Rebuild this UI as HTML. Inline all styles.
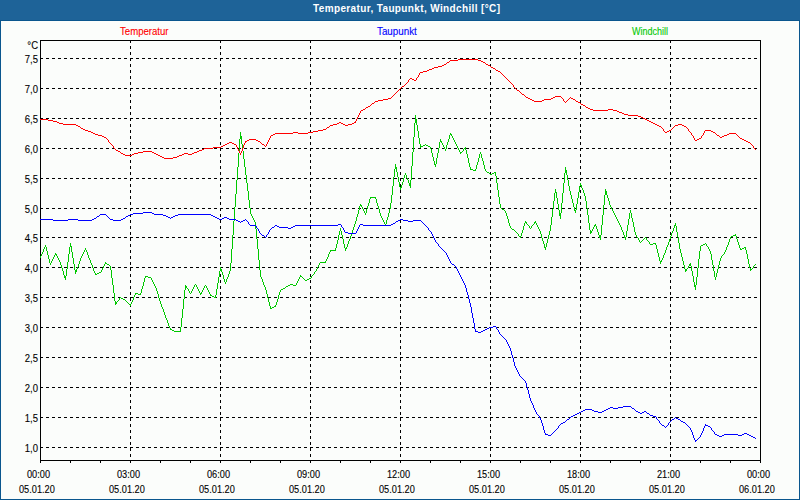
<!DOCTYPE html>
<html><head><meta charset="utf-8"><style>
html,body{margin:0;padding:0;}
body{width:800px;height:500px;position:relative;overflow:hidden;background:#fbfdfb;font-family:"Liberation Sans",sans-serif;font-size:10px;color:#000;}
.bd{position:absolute;background:#0a568e}
.title{position:absolute;left:0;top:0;width:800px;height:21px;background:#1e6398}
.tt{position:absolute;left:313px;top:3px;color:#fff;font-weight:bold;font-size:10px;white-space:nowrap;letter-spacing:0.37px}
.l{position:absolute;white-space:nowrap;transform-origin:0 0;line-height:12px;-webkit-text-stroke:0.1px currentColor}
.yl{left:0;width:38px;text-align:right;transform-origin:100% 0}
svg{position:absolute;left:0;top:0}
</style></head><body>
<div class="title"><div class="tt">Temperatur, Taupunkt, Windchill [°C]</div></div>
<div class="bd" style="left:0;top:20px;width:800px;height:1px"></div>
<div class="bd" style="left:0;top:20px;width:1px;height:480px"></div>
<div class="bd" style="right:0;top:20px;width:1px;height:480px"></div>
<div class="bd" style="left:0;bottom:0;width:800px;height:1px"></div>
<div class="l yl" style="top:54px;transform:scaleX(0.95)">7,5</div>
<div class="l yl" style="top:84px;transform:scaleX(0.95)">7,0</div>
<div class="l yl" style="top:114px;transform:scaleX(0.95)">6,5</div>
<div class="l yl" style="top:144px;transform:scaleX(0.95)">6,0</div>
<div class="l yl" style="top:174px;transform:scaleX(0.95)">5,5</div>
<div class="l yl" style="top:204px;transform:scaleX(0.95)">5,0</div>
<div class="l yl" style="top:233px;transform:scaleX(0.95)">4,5</div>
<div class="l yl" style="top:263px;transform:scaleX(0.95)">4,0</div>
<div class="l yl" style="top:293px;transform:scaleX(0.95)">3,5</div>
<div class="l yl" style="top:323px;transform:scaleX(0.95)">3,0</div>
<div class="l yl" style="top:353px;transform:scaleX(0.95)">2,5</div>
<div class="l yl" style="top:383px;transform:scaleX(0.95)">2,0</div>
<div class="l yl" style="top:413px;transform:scaleX(0.95)">1,5</div>
<div class="l yl" style="top:443px;transform:scaleX(0.95)">1,0</div>
<div class="l yl" style="top:40px;transform:scaleX(0.95)">°C</div>
<div class="l " style="left:27px;top:469px;transform:scaleX(0.92);">00:00</div>
<div class="l " style="left:19px;top:484px;transform:scaleX(0.92);">05.01.20</div>
<div class="l " style="left:117px;top:469px;transform:scaleX(0.92);">03:00</div>
<div class="l " style="left:109px;top:484px;transform:scaleX(0.92);">05.01.20</div>
<div class="l " style="left:207px;top:469px;transform:scaleX(0.92);">06:00</div>
<div class="l " style="left:199px;top:484px;transform:scaleX(0.92);">05.01.20</div>
<div class="l " style="left:297px;top:469px;transform:scaleX(0.92);">09:00</div>
<div class="l " style="left:289px;top:484px;transform:scaleX(0.92);">05.01.20</div>
<div class="l " style="left:387px;top:469px;transform:scaleX(0.92);">12:00</div>
<div class="l " style="left:379px;top:484px;transform:scaleX(0.92);">05.01.20</div>
<div class="l " style="left:477px;top:469px;transform:scaleX(0.92);">15:00</div>
<div class="l " style="left:469px;top:484px;transform:scaleX(0.92);">05.01.20</div>
<div class="l " style="left:567px;top:469px;transform:scaleX(0.92);">18:00</div>
<div class="l " style="left:559px;top:484px;transform:scaleX(0.92);">05.01.20</div>
<div class="l " style="left:657px;top:469px;transform:scaleX(0.92);">21:00</div>
<div class="l " style="left:649px;top:484px;transform:scaleX(0.92);">05.01.20</div>
<div class="l " style="left:747px;top:469px;transform:scaleX(0.92);">00:00</div>
<div class="l " style="left:739px;top:484px;transform:scaleX(0.92);">06.01.20</div>
<div class="l " style="left:120px;top:26px;transform:scaleX(0.96);color:#ff0000">Temperatur</div>
<div class="l " style="left:377px;top:26px;transform:scaleX(0.98);color:#0000ff">Taupunkt</div>
<div class="l " style="left:632px;top:26px;transform:scaleX(0.9);color:#00c800">Windchill</div>
<svg width="800" height="500" shape-rendering="crispEdges">
<path d="M40 58.5h3M46 58.5h3M52 58.5h3M58 58.5h3M64 58.5h3M70 58.5h3M76 58.5h3M82 58.5h3M88 58.5h3M94 58.5h3M100 58.5h3M106 58.5h3M112 58.5h3M118 58.5h3M124 58.5h3M130 58.5h3M136 58.5h3M142 58.5h3M148 58.5h3M154 58.5h3M160 58.5h3M166 58.5h3M172 58.5h3M178 58.5h3M184 58.5h3M190 58.5h3M196 58.5h3M202 58.5h3M208 58.5h3M214 58.5h3M220 58.5h3M226 58.5h3M232 58.5h3M238 58.5h3M244 58.5h3M250 58.5h3M256 58.5h3M262 58.5h3M268 58.5h3M274 58.5h3M280 58.5h3M286 58.5h3M292 58.5h3M298 58.5h3M304 58.5h3M310 58.5h3M316 58.5h3M322 58.5h3M328 58.5h3M334 58.5h3M340 58.5h3M346 58.5h3M352 58.5h3M358 58.5h3M364 58.5h3M370 58.5h3M376 58.5h3M382 58.5h3M388 58.5h3M394 58.5h3M400 58.5h3M406 58.5h3M412 58.5h3M418 58.5h3M424 58.5h3M430 58.5h3M436 58.5h3M442 58.5h3M448 58.5h3M454 58.5h3M460 58.5h3M466 58.5h3M472 58.5h3M478 58.5h3M484 58.5h3M490 58.5h3M496 58.5h3M502 58.5h3M508 58.5h3M514 58.5h3M520 58.5h3M526 58.5h3M532 58.5h3M538 58.5h3M544 58.5h3M550 58.5h3M556 58.5h3M562 58.5h3M568 58.5h3M574 58.5h3M580 58.5h3M586 58.5h3M592 58.5h3M598 58.5h3M604 58.5h3M610 58.5h3M616 58.5h3M622 58.5h3M628 58.5h3M634 58.5h3M640 58.5h3M646 58.5h3M652 58.5h3M658 58.5h3M664 58.5h3M670 58.5h3M676 58.5h3M682 58.5h3M688 58.5h3M694 58.5h3M700 58.5h3M706 58.5h3M712 58.5h3M718 58.5h3M724 58.5h3M730 58.5h3M736 58.5h3M742 58.5h3M748 58.5h3M754 58.5h3M40 88.5h3M46 88.5h3M52 88.5h3M58 88.5h3M64 88.5h3M70 88.5h3M76 88.5h3M82 88.5h3M88 88.5h3M94 88.5h3M100 88.5h3M106 88.5h3M112 88.5h3M118 88.5h3M124 88.5h3M130 88.5h3M136 88.5h3M142 88.5h3M148 88.5h3M154 88.5h3M160 88.5h3M166 88.5h3M172 88.5h3M178 88.5h3M184 88.5h3M190 88.5h3M196 88.5h3M202 88.5h3M208 88.5h3M214 88.5h3M220 88.5h3M226 88.5h3M232 88.5h3M238 88.5h3M244 88.5h3M250 88.5h3M256 88.5h3M262 88.5h3M268 88.5h3M274 88.5h3M280 88.5h3M286 88.5h3M292 88.5h3M298 88.5h3M304 88.5h3M310 88.5h3M316 88.5h3M322 88.5h3M328 88.5h3M334 88.5h3M340 88.5h3M346 88.5h3M352 88.5h3M358 88.5h3M364 88.5h3M370 88.5h3M376 88.5h3M382 88.5h3M388 88.5h3M394 88.5h3M400 88.5h3M406 88.5h3M412 88.5h3M418 88.5h3M424 88.5h3M430 88.5h3M436 88.5h3M442 88.5h3M448 88.5h3M454 88.5h3M460 88.5h3M466 88.5h3M472 88.5h3M478 88.5h3M484 88.5h3M490 88.5h3M496 88.5h3M502 88.5h3M508 88.5h3M514 88.5h3M520 88.5h3M526 88.5h3M532 88.5h3M538 88.5h3M544 88.5h3M550 88.5h3M556 88.5h3M562 88.5h3M568 88.5h3M574 88.5h3M580 88.5h3M586 88.5h3M592 88.5h3M598 88.5h3M604 88.5h3M610 88.5h3M616 88.5h3M622 88.5h3M628 88.5h3M634 88.5h3M640 88.5h3M646 88.5h3M652 88.5h3M658 88.5h3M664 88.5h3M670 88.5h3M676 88.5h3M682 88.5h3M688 88.5h3M694 88.5h3M700 88.5h3M706 88.5h3M712 88.5h3M718 88.5h3M724 88.5h3M730 88.5h3M736 88.5h3M742 88.5h3M748 88.5h3M754 88.5h3M40 118.5h3M46 118.5h3M52 118.5h3M58 118.5h3M64 118.5h3M70 118.5h3M76 118.5h3M82 118.5h3M88 118.5h3M94 118.5h3M100 118.5h3M106 118.5h3M112 118.5h3M118 118.5h3M124 118.5h3M130 118.5h3M136 118.5h3M142 118.5h3M148 118.5h3M154 118.5h3M160 118.5h3M166 118.5h3M172 118.5h3M178 118.5h3M184 118.5h3M190 118.5h3M196 118.5h3M202 118.5h3M208 118.5h3M214 118.5h3M220 118.5h3M226 118.5h3M232 118.5h3M238 118.5h3M244 118.5h3M250 118.5h3M256 118.5h3M262 118.5h3M268 118.5h3M274 118.5h3M280 118.5h3M286 118.5h3M292 118.5h3M298 118.5h3M304 118.5h3M310 118.5h3M316 118.5h3M322 118.5h3M328 118.5h3M334 118.5h3M340 118.5h3M346 118.5h3M352 118.5h3M358 118.5h3M364 118.5h3M370 118.5h3M376 118.5h3M382 118.5h3M388 118.5h3M394 118.5h3M400 118.5h3M406 118.5h3M412 118.5h3M418 118.5h3M424 118.5h3M430 118.5h3M436 118.5h3M442 118.5h3M448 118.5h3M454 118.5h3M460 118.5h3M466 118.5h3M472 118.5h3M478 118.5h3M484 118.5h3M490 118.5h3M496 118.5h3M502 118.5h3M508 118.5h3M514 118.5h3M520 118.5h3M526 118.5h3M532 118.5h3M538 118.5h3M544 118.5h3M550 118.5h3M556 118.5h3M562 118.5h3M568 118.5h3M574 118.5h3M580 118.5h3M586 118.5h3M592 118.5h3M598 118.5h3M604 118.5h3M610 118.5h3M616 118.5h3M622 118.5h3M628 118.5h3M634 118.5h3M640 118.5h3M646 118.5h3M652 118.5h3M658 118.5h3M664 118.5h3M670 118.5h3M676 118.5h3M682 118.5h3M688 118.5h3M694 118.5h3M700 118.5h3M706 118.5h3M712 118.5h3M718 118.5h3M724 118.5h3M730 118.5h3M736 118.5h3M742 118.5h3M748 118.5h3M754 118.5h3M40 148.5h3M46 148.5h3M52 148.5h3M58 148.5h3M64 148.5h3M70 148.5h3M76 148.5h3M82 148.5h3M88 148.5h3M94 148.5h3M100 148.5h3M106 148.5h3M112 148.5h3M118 148.5h3M124 148.5h3M130 148.5h3M136 148.5h3M142 148.5h3M148 148.5h3M154 148.5h3M160 148.5h3M166 148.5h3M172 148.5h3M178 148.5h3M184 148.5h3M190 148.5h3M196 148.5h3M202 148.5h3M208 148.5h3M214 148.5h3M220 148.5h3M226 148.5h3M232 148.5h3M238 148.5h3M244 148.5h3M250 148.5h3M256 148.5h3M262 148.5h3M268 148.5h3M274 148.5h3M280 148.5h3M286 148.5h3M292 148.5h3M298 148.5h3M304 148.5h3M310 148.5h3M316 148.5h3M322 148.5h3M328 148.5h3M334 148.5h3M340 148.5h3M346 148.5h3M352 148.5h3M358 148.5h3M364 148.5h3M370 148.5h3M376 148.5h3M382 148.5h3M388 148.5h3M394 148.5h3M400 148.5h3M406 148.5h3M412 148.5h3M418 148.5h3M424 148.5h3M430 148.5h3M436 148.5h3M442 148.5h3M448 148.5h3M454 148.5h3M460 148.5h3M466 148.5h3M472 148.5h3M478 148.5h3M484 148.5h3M490 148.5h3M496 148.5h3M502 148.5h3M508 148.5h3M514 148.5h3M520 148.5h3M526 148.5h3M532 148.5h3M538 148.5h3M544 148.5h3M550 148.5h3M556 148.5h3M562 148.5h3M568 148.5h3M574 148.5h3M580 148.5h3M586 148.5h3M592 148.5h3M598 148.5h3M604 148.5h3M610 148.5h3M616 148.5h3M622 148.5h3M628 148.5h3M634 148.5h3M640 148.5h3M646 148.5h3M652 148.5h3M658 148.5h3M664 148.5h3M670 148.5h3M676 148.5h3M682 148.5h3M688 148.5h3M694 148.5h3M700 148.5h3M706 148.5h3M712 148.5h3M718 148.5h3M724 148.5h3M730 148.5h3M736 148.5h3M742 148.5h3M748 148.5h3M754 148.5h3M40 178.5h3M46 178.5h3M52 178.5h3M58 178.5h3M64 178.5h3M70 178.5h3M76 178.5h3M82 178.5h3M88 178.5h3M94 178.5h3M100 178.5h3M106 178.5h3M112 178.5h3M118 178.5h3M124 178.5h3M130 178.5h3M136 178.5h3M142 178.5h3M148 178.5h3M154 178.5h3M160 178.5h3M166 178.5h3M172 178.5h3M178 178.5h3M184 178.5h3M190 178.5h3M196 178.5h3M202 178.5h3M208 178.5h3M214 178.5h3M220 178.5h3M226 178.5h3M232 178.5h3M238 178.5h3M244 178.5h3M250 178.5h3M256 178.5h3M262 178.5h3M268 178.5h3M274 178.5h3M280 178.5h3M286 178.5h3M292 178.5h3M298 178.5h3M304 178.5h3M310 178.5h3M316 178.5h3M322 178.5h3M328 178.5h3M334 178.5h3M340 178.5h3M346 178.5h3M352 178.5h3M358 178.5h3M364 178.5h3M370 178.5h3M376 178.5h3M382 178.5h3M388 178.5h3M394 178.5h3M400 178.5h3M406 178.5h3M412 178.5h3M418 178.5h3M424 178.5h3M430 178.5h3M436 178.5h3M442 178.5h3M448 178.5h3M454 178.5h3M460 178.5h3M466 178.5h3M472 178.5h3M478 178.5h3M484 178.5h3M490 178.5h3M496 178.5h3M502 178.5h3M508 178.5h3M514 178.5h3M520 178.5h3M526 178.5h3M532 178.5h3M538 178.5h3M544 178.5h3M550 178.5h3M556 178.5h3M562 178.5h3M568 178.5h3M574 178.5h3M580 178.5h3M586 178.5h3M592 178.5h3M598 178.5h3M604 178.5h3M610 178.5h3M616 178.5h3M622 178.5h3M628 178.5h3M634 178.5h3M640 178.5h3M646 178.5h3M652 178.5h3M658 178.5h3M664 178.5h3M670 178.5h3M676 178.5h3M682 178.5h3M688 178.5h3M694 178.5h3M700 178.5h3M706 178.5h3M712 178.5h3M718 178.5h3M724 178.5h3M730 178.5h3M736 178.5h3M742 178.5h3M748 178.5h3M754 178.5h3M40 208.5h3M46 208.5h3M52 208.5h3M58 208.5h3M64 208.5h3M70 208.5h3M76 208.5h3M82 208.5h3M88 208.5h3M94 208.5h3M100 208.5h3M106 208.5h3M112 208.5h3M118 208.5h3M124 208.5h3M130 208.5h3M136 208.5h3M142 208.5h3M148 208.5h3M154 208.5h3M160 208.5h3M166 208.5h3M172 208.5h3M178 208.5h3M184 208.5h3M190 208.5h3M196 208.5h3M202 208.5h3M208 208.5h3M214 208.5h3M220 208.5h3M226 208.5h3M232 208.5h3M238 208.5h3M244 208.5h3M250 208.5h3M256 208.5h3M262 208.5h3M268 208.5h3M274 208.5h3M280 208.5h3M286 208.5h3M292 208.5h3M298 208.5h3M304 208.5h3M310 208.5h3M316 208.5h3M322 208.5h3M328 208.5h3M334 208.5h3M340 208.5h3M346 208.5h3M352 208.5h3M358 208.5h3M364 208.5h3M370 208.5h3M376 208.5h3M382 208.5h3M388 208.5h3M394 208.5h3M400 208.5h3M406 208.5h3M412 208.5h3M418 208.5h3M424 208.5h3M430 208.5h3M436 208.5h3M442 208.5h3M448 208.5h3M454 208.5h3M460 208.5h3M466 208.5h3M472 208.5h3M478 208.5h3M484 208.5h3M490 208.5h3M496 208.5h3M502 208.5h3M508 208.5h3M514 208.5h3M520 208.5h3M526 208.5h3M532 208.5h3M538 208.5h3M544 208.5h3M550 208.5h3M556 208.5h3M562 208.5h3M568 208.5h3M574 208.5h3M580 208.5h3M586 208.5h3M592 208.5h3M598 208.5h3M604 208.5h3M610 208.5h3M616 208.5h3M622 208.5h3M628 208.5h3M634 208.5h3M640 208.5h3M646 208.5h3M652 208.5h3M658 208.5h3M664 208.5h3M670 208.5h3M676 208.5h3M682 208.5h3M688 208.5h3M694 208.5h3M700 208.5h3M706 208.5h3M712 208.5h3M718 208.5h3M724 208.5h3M730 208.5h3M736 208.5h3M742 208.5h3M748 208.5h3M754 208.5h3M40 237.5h3M46 237.5h3M52 237.5h3M58 237.5h3M64 237.5h3M70 237.5h3M76 237.5h3M82 237.5h3M88 237.5h3M94 237.5h3M100 237.5h3M106 237.5h3M112 237.5h3M118 237.5h3M124 237.5h3M130 237.5h3M136 237.5h3M142 237.5h3M148 237.5h3M154 237.5h3M160 237.5h3M166 237.5h3M172 237.5h3M178 237.5h3M184 237.5h3M190 237.5h3M196 237.5h3M202 237.5h3M208 237.5h3M214 237.5h3M220 237.5h3M226 237.5h3M232 237.5h3M238 237.5h3M244 237.5h3M250 237.5h3M256 237.5h3M262 237.5h3M268 237.5h3M274 237.5h3M280 237.5h3M286 237.5h3M292 237.5h3M298 237.5h3M304 237.5h3M310 237.5h3M316 237.5h3M322 237.5h3M328 237.5h3M334 237.5h3M340 237.5h3M346 237.5h3M352 237.5h3M358 237.5h3M364 237.5h3M370 237.5h3M376 237.5h3M382 237.5h3M388 237.5h3M394 237.5h3M400 237.5h3M406 237.5h3M412 237.5h3M418 237.5h3M424 237.5h3M430 237.5h3M436 237.5h3M442 237.5h3M448 237.5h3M454 237.5h3M460 237.5h3M466 237.5h3M472 237.5h3M478 237.5h3M484 237.5h3M490 237.5h3M496 237.5h3M502 237.5h3M508 237.5h3M514 237.5h3M520 237.5h3M526 237.5h3M532 237.5h3M538 237.5h3M544 237.5h3M550 237.5h3M556 237.5h3M562 237.5h3M568 237.5h3M574 237.5h3M580 237.5h3M586 237.5h3M592 237.5h3M598 237.5h3M604 237.5h3M610 237.5h3M616 237.5h3M622 237.5h3M628 237.5h3M634 237.5h3M640 237.5h3M646 237.5h3M652 237.5h3M658 237.5h3M664 237.5h3M670 237.5h3M676 237.5h3M682 237.5h3M688 237.5h3M694 237.5h3M700 237.5h3M706 237.5h3M712 237.5h3M718 237.5h3M724 237.5h3M730 237.5h3M736 237.5h3M742 237.5h3M748 237.5h3M754 237.5h3M40 267.5h3M46 267.5h3M52 267.5h3M58 267.5h3M64 267.5h3M70 267.5h3M76 267.5h3M82 267.5h3M88 267.5h3M94 267.5h3M100 267.5h3M106 267.5h3M112 267.5h3M118 267.5h3M124 267.5h3M130 267.5h3M136 267.5h3M142 267.5h3M148 267.5h3M154 267.5h3M160 267.5h3M166 267.5h3M172 267.5h3M178 267.5h3M184 267.5h3M190 267.5h3M196 267.5h3M202 267.5h3M208 267.5h3M214 267.5h3M220 267.5h3M226 267.5h3M232 267.5h3M238 267.5h3M244 267.5h3M250 267.5h3M256 267.5h3M262 267.5h3M268 267.5h3M274 267.5h3M280 267.5h3M286 267.5h3M292 267.5h3M298 267.5h3M304 267.5h3M310 267.5h3M316 267.5h3M322 267.5h3M328 267.5h3M334 267.5h3M340 267.5h3M346 267.5h3M352 267.5h3M358 267.5h3M364 267.5h3M370 267.5h3M376 267.5h3M382 267.5h3M388 267.5h3M394 267.5h3M400 267.5h3M406 267.5h3M412 267.5h3M418 267.5h3M424 267.5h3M430 267.5h3M436 267.5h3M442 267.5h3M448 267.5h3M454 267.5h3M460 267.5h3M466 267.5h3M472 267.5h3M478 267.5h3M484 267.5h3M490 267.5h3M496 267.5h3M502 267.5h3M508 267.5h3M514 267.5h3M520 267.5h3M526 267.5h3M532 267.5h3M538 267.5h3M544 267.5h3M550 267.5h3M556 267.5h3M562 267.5h3M568 267.5h3M574 267.5h3M580 267.5h3M586 267.5h3M592 267.5h3M598 267.5h3M604 267.5h3M610 267.5h3M616 267.5h3M622 267.5h3M628 267.5h3M634 267.5h3M640 267.5h3M646 267.5h3M652 267.5h3M658 267.5h3M664 267.5h3M670 267.5h3M676 267.5h3M682 267.5h3M688 267.5h3M694 267.5h3M700 267.5h3M706 267.5h3M712 267.5h3M718 267.5h3M724 267.5h3M730 267.5h3M736 267.5h3M742 267.5h3M748 267.5h3M754 267.5h3M40 297.5h3M46 297.5h3M52 297.5h3M58 297.5h3M64 297.5h3M70 297.5h3M76 297.5h3M82 297.5h3M88 297.5h3M94 297.5h3M100 297.5h3M106 297.5h3M112 297.5h3M118 297.5h3M124 297.5h3M130 297.5h3M136 297.5h3M142 297.5h3M148 297.5h3M154 297.5h3M160 297.5h3M166 297.5h3M172 297.5h3M178 297.5h3M184 297.5h3M190 297.5h3M196 297.5h3M202 297.5h3M208 297.5h3M214 297.5h3M220 297.5h3M226 297.5h3M232 297.5h3M238 297.5h3M244 297.5h3M250 297.5h3M256 297.5h3M262 297.5h3M268 297.5h3M274 297.5h3M280 297.5h3M286 297.5h3M292 297.5h3M298 297.5h3M304 297.5h3M310 297.5h3M316 297.5h3M322 297.5h3M328 297.5h3M334 297.5h3M340 297.5h3M346 297.5h3M352 297.5h3M358 297.5h3M364 297.5h3M370 297.5h3M376 297.5h3M382 297.5h3M388 297.5h3M394 297.5h3M400 297.5h3M406 297.5h3M412 297.5h3M418 297.5h3M424 297.5h3M430 297.5h3M436 297.5h3M442 297.5h3M448 297.5h3M454 297.5h3M460 297.5h3M466 297.5h3M472 297.5h3M478 297.5h3M484 297.5h3M490 297.5h3M496 297.5h3M502 297.5h3M508 297.5h3M514 297.5h3M520 297.5h3M526 297.5h3M532 297.5h3M538 297.5h3M544 297.5h3M550 297.5h3M556 297.5h3M562 297.5h3M568 297.5h3M574 297.5h3M580 297.5h3M586 297.5h3M592 297.5h3M598 297.5h3M604 297.5h3M610 297.5h3M616 297.5h3M622 297.5h3M628 297.5h3M634 297.5h3M640 297.5h3M646 297.5h3M652 297.5h3M658 297.5h3M664 297.5h3M670 297.5h3M676 297.5h3M682 297.5h3M688 297.5h3M694 297.5h3M700 297.5h3M706 297.5h3M712 297.5h3M718 297.5h3M724 297.5h3M730 297.5h3M736 297.5h3M742 297.5h3M748 297.5h3M754 297.5h3M40 327.5h3M46 327.5h3M52 327.5h3M58 327.5h3M64 327.5h3M70 327.5h3M76 327.5h3M82 327.5h3M88 327.5h3M94 327.5h3M100 327.5h3M106 327.5h3M112 327.5h3M118 327.5h3M124 327.5h3M130 327.5h3M136 327.5h3M142 327.5h3M148 327.5h3M154 327.5h3M160 327.5h3M166 327.5h3M172 327.5h3M178 327.5h3M184 327.5h3M190 327.5h3M196 327.5h3M202 327.5h3M208 327.5h3M214 327.5h3M220 327.5h3M226 327.5h3M232 327.5h3M238 327.5h3M244 327.5h3M250 327.5h3M256 327.5h3M262 327.5h3M268 327.5h3M274 327.5h3M280 327.5h3M286 327.5h3M292 327.5h3M298 327.5h3M304 327.5h3M310 327.5h3M316 327.5h3M322 327.5h3M328 327.5h3M334 327.5h3M340 327.5h3M346 327.5h3M352 327.5h3M358 327.5h3M364 327.5h3M370 327.5h3M376 327.5h3M382 327.5h3M388 327.5h3M394 327.5h3M400 327.5h3M406 327.5h3M412 327.5h3M418 327.5h3M424 327.5h3M430 327.5h3M436 327.5h3M442 327.5h3M448 327.5h3M454 327.5h3M460 327.5h3M466 327.5h3M472 327.5h3M478 327.5h3M484 327.5h3M490 327.5h3M496 327.5h3M502 327.5h3M508 327.5h3M514 327.5h3M520 327.5h3M526 327.5h3M532 327.5h3M538 327.5h3M544 327.5h3M550 327.5h3M556 327.5h3M562 327.5h3M568 327.5h3M574 327.5h3M580 327.5h3M586 327.5h3M592 327.5h3M598 327.5h3M604 327.5h3M610 327.5h3M616 327.5h3M622 327.5h3M628 327.5h3M634 327.5h3M640 327.5h3M646 327.5h3M652 327.5h3M658 327.5h3M664 327.5h3M670 327.5h3M676 327.5h3M682 327.5h3M688 327.5h3M694 327.5h3M700 327.5h3M706 327.5h3M712 327.5h3M718 327.5h3M724 327.5h3M730 327.5h3M736 327.5h3M742 327.5h3M748 327.5h3M754 327.5h3M40 357.5h3M46 357.5h3M52 357.5h3M58 357.5h3M64 357.5h3M70 357.5h3M76 357.5h3M82 357.5h3M88 357.5h3M94 357.5h3M100 357.5h3M106 357.5h3M112 357.5h3M118 357.5h3M124 357.5h3M130 357.5h3M136 357.5h3M142 357.5h3M148 357.5h3M154 357.5h3M160 357.5h3M166 357.5h3M172 357.5h3M178 357.5h3M184 357.5h3M190 357.5h3M196 357.5h3M202 357.5h3M208 357.5h3M214 357.5h3M220 357.5h3M226 357.5h3M232 357.5h3M238 357.5h3M244 357.5h3M250 357.5h3M256 357.5h3M262 357.5h3M268 357.5h3M274 357.5h3M280 357.5h3M286 357.5h3M292 357.5h3M298 357.5h3M304 357.5h3M310 357.5h3M316 357.5h3M322 357.5h3M328 357.5h3M334 357.5h3M340 357.5h3M346 357.5h3M352 357.5h3M358 357.5h3M364 357.5h3M370 357.5h3M376 357.5h3M382 357.5h3M388 357.5h3M394 357.5h3M400 357.5h3M406 357.5h3M412 357.5h3M418 357.5h3M424 357.5h3M430 357.5h3M436 357.5h3M442 357.5h3M448 357.5h3M454 357.5h3M460 357.5h3M466 357.5h3M472 357.5h3M478 357.5h3M484 357.5h3M490 357.5h3M496 357.5h3M502 357.5h3M508 357.5h3M514 357.5h3M520 357.5h3M526 357.5h3M532 357.5h3M538 357.5h3M544 357.5h3M550 357.5h3M556 357.5h3M562 357.5h3M568 357.5h3M574 357.5h3M580 357.5h3M586 357.5h3M592 357.5h3M598 357.5h3M604 357.5h3M610 357.5h3M616 357.5h3M622 357.5h3M628 357.5h3M634 357.5h3M640 357.5h3M646 357.5h3M652 357.5h3M658 357.5h3M664 357.5h3M670 357.5h3M676 357.5h3M682 357.5h3M688 357.5h3M694 357.5h3M700 357.5h3M706 357.5h3M712 357.5h3M718 357.5h3M724 357.5h3M730 357.5h3M736 357.5h3M742 357.5h3M748 357.5h3M754 357.5h3M40 387.5h3M46 387.5h3M52 387.5h3M58 387.5h3M64 387.5h3M70 387.5h3M76 387.5h3M82 387.5h3M88 387.5h3M94 387.5h3M100 387.5h3M106 387.5h3M112 387.5h3M118 387.5h3M124 387.5h3M130 387.5h3M136 387.5h3M142 387.5h3M148 387.5h3M154 387.5h3M160 387.5h3M166 387.5h3M172 387.5h3M178 387.5h3M184 387.5h3M190 387.5h3M196 387.5h3M202 387.5h3M208 387.5h3M214 387.5h3M220 387.5h3M226 387.5h3M232 387.5h3M238 387.5h3M244 387.5h3M250 387.5h3M256 387.5h3M262 387.5h3M268 387.5h3M274 387.5h3M280 387.5h3M286 387.5h3M292 387.5h3M298 387.5h3M304 387.5h3M310 387.5h3M316 387.5h3M322 387.5h3M328 387.5h3M334 387.5h3M340 387.5h3M346 387.5h3M352 387.5h3M358 387.5h3M364 387.5h3M370 387.5h3M376 387.5h3M382 387.5h3M388 387.5h3M394 387.5h3M400 387.5h3M406 387.5h3M412 387.5h3M418 387.5h3M424 387.5h3M430 387.5h3M436 387.5h3M442 387.5h3M448 387.5h3M454 387.5h3M460 387.5h3M466 387.5h3M472 387.5h3M478 387.5h3M484 387.5h3M490 387.5h3M496 387.5h3M502 387.5h3M508 387.5h3M514 387.5h3M520 387.5h3M526 387.5h3M532 387.5h3M538 387.5h3M544 387.5h3M550 387.5h3M556 387.5h3M562 387.5h3M568 387.5h3M574 387.5h3M580 387.5h3M586 387.5h3M592 387.5h3M598 387.5h3M604 387.5h3M610 387.5h3M616 387.5h3M622 387.5h3M628 387.5h3M634 387.5h3M640 387.5h3M646 387.5h3M652 387.5h3M658 387.5h3M664 387.5h3M670 387.5h3M676 387.5h3M682 387.5h3M688 387.5h3M694 387.5h3M700 387.5h3M706 387.5h3M712 387.5h3M718 387.5h3M724 387.5h3M730 387.5h3M736 387.5h3M742 387.5h3M748 387.5h3M754 387.5h3M40 417.5h3M46 417.5h3M52 417.5h3M58 417.5h3M64 417.5h3M70 417.5h3M76 417.5h3M82 417.5h3M88 417.5h3M94 417.5h3M100 417.5h3M106 417.5h3M112 417.5h3M118 417.5h3M124 417.5h3M130 417.5h3M136 417.5h3M142 417.5h3M148 417.5h3M154 417.5h3M160 417.5h3M166 417.5h3M172 417.5h3M178 417.5h3M184 417.5h3M190 417.5h3M196 417.5h3M202 417.5h3M208 417.5h3M214 417.5h3M220 417.5h3M226 417.5h3M232 417.5h3M238 417.5h3M244 417.5h3M250 417.5h3M256 417.5h3M262 417.5h3M268 417.5h3M274 417.5h3M280 417.5h3M286 417.5h3M292 417.5h3M298 417.5h3M304 417.5h3M310 417.5h3M316 417.5h3M322 417.5h3M328 417.5h3M334 417.5h3M340 417.5h3M346 417.5h3M352 417.5h3M358 417.5h3M364 417.5h3M370 417.5h3M376 417.5h3M382 417.5h3M388 417.5h3M394 417.5h3M400 417.5h3M406 417.5h3M412 417.5h3M418 417.5h3M424 417.5h3M430 417.5h3M436 417.5h3M442 417.5h3M448 417.5h3M454 417.5h3M460 417.5h3M466 417.5h3M472 417.5h3M478 417.5h3M484 417.5h3M490 417.5h3M496 417.5h3M502 417.5h3M508 417.5h3M514 417.5h3M520 417.5h3M526 417.5h3M532 417.5h3M538 417.5h3M544 417.5h3M550 417.5h3M556 417.5h3M562 417.5h3M568 417.5h3M574 417.5h3M580 417.5h3M586 417.5h3M592 417.5h3M598 417.5h3M604 417.5h3M610 417.5h3M616 417.5h3M622 417.5h3M628 417.5h3M634 417.5h3M640 417.5h3M646 417.5h3M652 417.5h3M658 417.5h3M664 417.5h3M670 417.5h3M676 417.5h3M682 417.5h3M688 417.5h3M694 417.5h3M700 417.5h3M706 417.5h3M712 417.5h3M718 417.5h3M724 417.5h3M730 417.5h3M736 417.5h3M742 417.5h3M748 417.5h3M754 417.5h3M40 447.5h3M46 447.5h3M52 447.5h3M58 447.5h3M64 447.5h3M70 447.5h3M76 447.5h3M82 447.5h3M88 447.5h3M94 447.5h3M100 447.5h3M106 447.5h3M112 447.5h3M118 447.5h3M124 447.5h3M130 447.5h3M136 447.5h3M142 447.5h3M148 447.5h3M154 447.5h3M160 447.5h3M166 447.5h3M172 447.5h3M178 447.5h3M184 447.5h3M190 447.5h3M196 447.5h3M202 447.5h3M208 447.5h3M214 447.5h3M220 447.5h3M226 447.5h3M232 447.5h3M238 447.5h3M244 447.5h3M250 447.5h3M256 447.5h3M262 447.5h3M268 447.5h3M274 447.5h3M280 447.5h3M286 447.5h3M292 447.5h3M298 447.5h3M304 447.5h3M310 447.5h3M316 447.5h3M322 447.5h3M328 447.5h3M334 447.5h3M340 447.5h3M346 447.5h3M352 447.5h3M358 447.5h3M364 447.5h3M370 447.5h3M376 447.5h3M382 447.5h3M388 447.5h3M394 447.5h3M400 447.5h3M406 447.5h3M412 447.5h3M418 447.5h3M424 447.5h3M430 447.5h3M436 447.5h3M442 447.5h3M448 447.5h3M454 447.5h3M460 447.5h3M466 447.5h3M472 447.5h3M478 447.5h3M484 447.5h3M490 447.5h3M496 447.5h3M502 447.5h3M508 447.5h3M514 447.5h3M520 447.5h3M526 447.5h3M532 447.5h3M538 447.5h3M544 447.5h3M550 447.5h3M556 447.5h3M562 447.5h3M568 447.5h3M574 447.5h3M580 447.5h3M586 447.5h3M592 447.5h3M598 447.5h3M604 447.5h3M610 447.5h3M616 447.5h3M622 447.5h3M628 447.5h3M634 447.5h3M640 447.5h3M646 447.5h3M652 447.5h3M658 447.5h3M664 447.5h3M670 447.5h3M676 447.5h3M682 447.5h3M688 447.5h3M694 447.5h3M700 447.5h3M706 447.5h3M712 447.5h3M718 447.5h3M724 447.5h3M730 447.5h3M736 447.5h3M742 447.5h3M748 447.5h3M754 447.5h3M130.5 40v3M130.5 46v3M130.5 52v3M130.5 58v3M130.5 64v3M130.5 70v3M130.5 76v3M130.5 82v3M130.5 88v3M130.5 94v3M130.5 100v3M130.5 106v3M130.5 112v3M130.5 118v3M130.5 124v3M130.5 130v3M130.5 136v3M130.5 142v3M130.5 148v3M130.5 154v3M130.5 160v3M130.5 166v3M130.5 172v3M130.5 178v3M130.5 184v3M130.5 190v3M130.5 196v3M130.5 202v3M130.5 208v3M130.5 214v3M130.5 220v3M130.5 226v3M130.5 232v3M130.5 238v3M130.5 244v3M130.5 250v3M130.5 256v3M130.5 262v3M130.5 268v3M130.5 274v3M130.5 280v3M130.5 286v3M130.5 292v3M130.5 298v3M130.5 304v3M130.5 310v3M130.5 316v3M130.5 322v3M130.5 328v3M130.5 334v3M130.5 340v3M130.5 346v3M130.5 352v3M130.5 358v3M130.5 364v3M130.5 370v3M130.5 376v3M130.5 382v3M130.5 388v3M130.5 394v3M130.5 400v3M130.5 406v3M130.5 412v3M130.5 418v3M130.5 424v3M130.5 430v3M130.5 436v3M130.5 442v3M130.5 448v3M130.5 454v3M220.5 40v3M220.5 46v3M220.5 52v3M220.5 58v3M220.5 64v3M220.5 70v3M220.5 76v3M220.5 82v3M220.5 88v3M220.5 94v3M220.5 100v3M220.5 106v3M220.5 112v3M220.5 118v3M220.5 124v3M220.5 130v3M220.5 136v3M220.5 142v3M220.5 148v3M220.5 154v3M220.5 160v3M220.5 166v3M220.5 172v3M220.5 178v3M220.5 184v3M220.5 190v3M220.5 196v3M220.5 202v3M220.5 208v3M220.5 214v3M220.5 220v3M220.5 226v3M220.5 232v3M220.5 238v3M220.5 244v3M220.5 250v3M220.5 256v3M220.5 262v3M220.5 268v3M220.5 274v3M220.5 280v3M220.5 286v3M220.5 292v3M220.5 298v3M220.5 304v3M220.5 310v3M220.5 316v3M220.5 322v3M220.5 328v3M220.5 334v3M220.5 340v3M220.5 346v3M220.5 352v3M220.5 358v3M220.5 364v3M220.5 370v3M220.5 376v3M220.5 382v3M220.5 388v3M220.5 394v3M220.5 400v3M220.5 406v3M220.5 412v3M220.5 418v3M220.5 424v3M220.5 430v3M220.5 436v3M220.5 442v3M220.5 448v3M220.5 454v3M310.5 40v3M310.5 46v3M310.5 52v3M310.5 58v3M310.5 64v3M310.5 70v3M310.5 76v3M310.5 82v3M310.5 88v3M310.5 94v3M310.5 100v3M310.5 106v3M310.5 112v3M310.5 118v3M310.5 124v3M310.5 130v3M310.5 136v3M310.5 142v3M310.5 148v3M310.5 154v3M310.5 160v3M310.5 166v3M310.5 172v3M310.5 178v3M310.5 184v3M310.5 190v3M310.5 196v3M310.5 202v3M310.5 208v3M310.5 214v3M310.5 220v3M310.5 226v3M310.5 232v3M310.5 238v3M310.5 244v3M310.5 250v3M310.5 256v3M310.5 262v3M310.5 268v3M310.5 274v3M310.5 280v3M310.5 286v3M310.5 292v3M310.5 298v3M310.5 304v3M310.5 310v3M310.5 316v3M310.5 322v3M310.5 328v3M310.5 334v3M310.5 340v3M310.5 346v3M310.5 352v3M310.5 358v3M310.5 364v3M310.5 370v3M310.5 376v3M310.5 382v3M310.5 388v3M310.5 394v3M310.5 400v3M310.5 406v3M310.5 412v3M310.5 418v3M310.5 424v3M310.5 430v3M310.5 436v3M310.5 442v3M310.5 448v3M310.5 454v3M400.5 40v3M400.5 46v3M400.5 52v3M400.5 58v3M400.5 64v3M400.5 70v3M400.5 76v3M400.5 82v3M400.5 88v3M400.5 94v3M400.5 100v3M400.5 106v3M400.5 112v3M400.5 118v3M400.5 124v3M400.5 130v3M400.5 136v3M400.5 142v3M400.5 148v3M400.5 154v3M400.5 160v3M400.5 166v3M400.5 172v3M400.5 178v3M400.5 184v3M400.5 190v3M400.5 196v3M400.5 202v3M400.5 208v3M400.5 214v3M400.5 220v3M400.5 226v3M400.5 232v3M400.5 238v3M400.5 244v3M400.5 250v3M400.5 256v3M400.5 262v3M400.5 268v3M400.5 274v3M400.5 280v3M400.5 286v3M400.5 292v3M400.5 298v3M400.5 304v3M400.5 310v3M400.5 316v3M400.5 322v3M400.5 328v3M400.5 334v3M400.5 340v3M400.5 346v3M400.5 352v3M400.5 358v3M400.5 364v3M400.5 370v3M400.5 376v3M400.5 382v3M400.5 388v3M400.5 394v3M400.5 400v3M400.5 406v3M400.5 412v3M400.5 418v3M400.5 424v3M400.5 430v3M400.5 436v3M400.5 442v3M400.5 448v3M400.5 454v3M490.5 40v3M490.5 46v3M490.5 52v3M490.5 58v3M490.5 64v3M490.5 70v3M490.5 76v3M490.5 82v3M490.5 88v3M490.5 94v3M490.5 100v3M490.5 106v3M490.5 112v3M490.5 118v3M490.5 124v3M490.5 130v3M490.5 136v3M490.5 142v3M490.5 148v3M490.5 154v3M490.5 160v3M490.5 166v3M490.5 172v3M490.5 178v3M490.5 184v3M490.5 190v3M490.5 196v3M490.5 202v3M490.5 208v3M490.5 214v3M490.5 220v3M490.5 226v3M490.5 232v3M490.5 238v3M490.5 244v3M490.5 250v3M490.5 256v3M490.5 262v3M490.5 268v3M490.5 274v3M490.5 280v3M490.5 286v3M490.5 292v3M490.5 298v3M490.5 304v3M490.5 310v3M490.5 316v3M490.5 322v3M490.5 328v3M490.5 334v3M490.5 340v3M490.5 346v3M490.5 352v3M490.5 358v3M490.5 364v3M490.5 370v3M490.5 376v3M490.5 382v3M490.5 388v3M490.5 394v3M490.5 400v3M490.5 406v3M490.5 412v3M490.5 418v3M490.5 424v3M490.5 430v3M490.5 436v3M490.5 442v3M490.5 448v3M490.5 454v3M580.5 40v3M580.5 46v3M580.5 52v3M580.5 58v3M580.5 64v3M580.5 70v3M580.5 76v3M580.5 82v3M580.5 88v3M580.5 94v3M580.5 100v3M580.5 106v3M580.5 112v3M580.5 118v3M580.5 124v3M580.5 130v3M580.5 136v3M580.5 142v3M580.5 148v3M580.5 154v3M580.5 160v3M580.5 166v3M580.5 172v3M580.5 178v3M580.5 184v3M580.5 190v3M580.5 196v3M580.5 202v3M580.5 208v3M580.5 214v3M580.5 220v3M580.5 226v3M580.5 232v3M580.5 238v3M580.5 244v3M580.5 250v3M580.5 256v3M580.5 262v3M580.5 268v3M580.5 274v3M580.5 280v3M580.5 286v3M580.5 292v3M580.5 298v3M580.5 304v3M580.5 310v3M580.5 316v3M580.5 322v3M580.5 328v3M580.5 334v3M580.5 340v3M580.5 346v3M580.5 352v3M580.5 358v3M580.5 364v3M580.5 370v3M580.5 376v3M580.5 382v3M580.5 388v3M580.5 394v3M580.5 400v3M580.5 406v3M580.5 412v3M580.5 418v3M580.5 424v3M580.5 430v3M580.5 436v3M580.5 442v3M580.5 448v3M580.5 454v3M670.5 40v3M670.5 46v3M670.5 52v3M670.5 58v3M670.5 64v3M670.5 70v3M670.5 76v3M670.5 82v3M670.5 88v3M670.5 94v3M670.5 100v3M670.5 106v3M670.5 112v3M670.5 118v3M670.5 124v3M670.5 130v3M670.5 136v3M670.5 142v3M670.5 148v3M670.5 154v3M670.5 160v3M670.5 166v3M670.5 172v3M670.5 178v3M670.5 184v3M670.5 190v3M670.5 196v3M670.5 202v3M670.5 208v3M670.5 214v3M670.5 220v3M670.5 226v3M670.5 232v3M670.5 238v3M670.5 244v3M670.5 250v3M670.5 256v3M670.5 262v3M670.5 268v3M670.5 274v3M670.5 280v3M670.5 286v3M670.5 292v3M670.5 298v3M670.5 304v3M670.5 310v3M670.5 316v3M670.5 322v3M670.5 328v3M670.5 334v3M670.5 340v3M670.5 346v3M670.5 352v3M670.5 358v3M670.5 364v3M670.5 370v3M670.5 376v3M670.5 382v3M670.5 388v3M670.5 394v3M670.5 400v3M670.5 406v3M670.5 412v3M670.5 418v3M670.5 424v3M670.5 430v3M670.5 436v3M670.5 442v3M670.5 448v3M670.5 454v3M40.5 460v3M70.5 460v3M100.5 460v3M130.5 460v3M160.5 460v3M190.5 460v3M220.5 460v3M250.5 460v3M280.5 460v3M310.5 460v3M340.5 460v3M370.5 460v3M400.5 460v3M430.5 460v3M460.5 460v3M490.5 460v3M520.5 460v3M550.5 460v3M580.5 460v3M610.5 460v3M640.5 460v3M670.5 460v3M700.5 460v3M730.5 460v3M760.5 460v3" stroke="#000" stroke-width="1" fill="none"/>
<rect x="40.5" y="40.5" width="720" height="420" fill="none" stroke="#000"/>
<path fill="#00c800" d="M415 115h1v1h-1zM415 116h1v1h-1zM415 117h1v1h-1zM415 118h1v1h-1zM415 119h2v1h-2zM415 120h2v1h-2zM415 121h2v1h-2zM415 122h2v1h-2zM414 123h1v1h-1zM416 123h1v1h-1zM414 124h1v1h-1zM416 124h1v1h-1zM414 125h1v1h-1zM417 125h1v1h-1zM414 126h1v1h-1zM417 126h1v1h-1zM414 127h1v1h-1zM417 127h1v1h-1zM414 128h1v1h-1zM417 128h1v1h-1zM414 129h1v1h-1zM417 129h1v1h-1zM414 130h1v1h-1zM417 130h1v1h-1zM414 131h1v1h-1zM418 131h1v1h-1zM240 132h1v1h-1zM414 132h1v1h-1zM418 132h1v1h-1zM240 133h1v1h-1zM414 133h1v1h-1zM418 133h1v1h-1zM450 133h1v1h-1zM240 134h1v1h-1zM414 134h1v1h-1zM418 134h1v1h-1zM450 134h2v1h-2zM240 135h1v1h-1zM414 135h1v1h-1zM418 135h1v1h-1zM449 135h1v1h-1zM451 135h1v1h-1zM240 136h2v1h-2zM414 136h1v1h-1zM418 136h1v1h-1zM449 136h1v1h-1zM452 136h1v1h-1zM240 137h2v1h-2zM413 137h1v1h-1zM418 137h1v1h-1zM449 137h1v1h-1zM452 137h1v1h-1zM240 138h2v1h-2zM413 138h1v1h-1zM419 138h1v1h-1zM449 138h1v1h-1zM453 138h1v1h-1zM239 139h1v1h-1zM241 139h1v1h-1zM413 139h1v1h-1zM419 139h1v1h-1zM440 139h1v1h-1zM448 139h1v1h-1zM453 139h1v1h-1zM239 140h1v1h-1zM241 140h1v1h-1zM413 140h1v1h-1zM419 140h1v1h-1zM440 140h1v1h-1zM448 140h1v1h-1zM454 140h1v1h-1zM239 141h1v1h-1zM241 141h1v1h-1zM413 141h1v1h-1zM419 141h1v1h-1zM440 141h2v1h-2zM448 141h1v1h-1zM454 141h1v1h-1zM239 142h1v1h-1zM241 142h1v1h-1zM413 142h1v1h-1zM419 142h1v1h-1zM439 142h1v1h-1zM441 142h1v1h-1zM447 142h1v1h-1zM455 142h1v1h-1zM239 143h1v1h-1zM241 143h1v1h-1zM413 143h1v1h-1zM419 143h1v1h-1zM439 143h1v1h-1zM442 143h1v1h-1zM447 143h1v1h-1zM455 143h1v1h-1zM239 144h1v1h-1zM242 144h1v1h-1zM413 144h1v1h-1zM420 144h1v1h-1zM425 144h1v1h-1zM439 144h1v1h-1zM442 144h1v1h-1zM447 144h1v1h-1zM456 144h1v1h-1zM239 145h1v1h-1zM242 145h1v1h-1zM413 145h1v1h-1zM420 145h1v1h-1zM423 145h2v1h-2zM426 145h2v1h-2zM439 145h1v1h-1zM443 145h1v1h-1zM446 145h1v1h-1zM456 145h1v1h-1zM239 146h1v1h-1zM242 146h1v1h-1zM413 146h1v1h-1zM420 146h3v1h-3zM428 146h2v1h-2zM439 146h1v1h-1zM443 146h1v1h-1zM446 146h1v1h-1zM457 146h1v1h-1zM239 147h1v1h-1zM242 147h1v1h-1zM413 147h1v1h-1zM420 147h1v1h-1zM430 147h1v1h-1zM439 147h1v1h-1zM444 147h1v1h-1zM446 147h1v1h-1zM457 147h1v1h-1zM465 147h1v1h-1zM239 148h1v1h-1zM242 148h1v1h-1zM413 148h1v1h-1zM430 148h1v1h-1zM438 148h1v1h-1zM444 148h1v1h-1zM446 148h1v1h-1zM458 148h1v1h-1zM464 148h2v1h-2zM239 149h1v1h-1zM242 149h1v1h-1zM413 149h1v1h-1zM431 149h1v1h-1zM438 149h1v1h-1zM445 149h1v1h-1zM458 149h1v1h-1zM463 149h1v1h-1zM465 149h1v1h-1zM239 150h1v1h-1zM242 150h1v1h-1zM413 150h1v1h-1zM431 150h1v1h-1zM438 150h1v1h-1zM445 150h1v1h-1zM459 150h1v1h-1zM463 150h1v1h-1zM466 150h1v1h-1zM239 151h1v1h-1zM243 151h1v1h-1zM413 151h1v1h-1zM431 151h1v1h-1zM438 151h1v1h-1zM459 151h1v1h-1zM462 151h1v1h-1zM466 151h1v1h-1zM239 152h1v1h-1zM243 152h1v1h-1zM412 152h1v1h-1zM431 152h1v1h-1zM438 152h1v1h-1zM460 152h2v1h-2zM466 152h1v1h-1zM480 152h1v1h-1zM238 153h1v1h-1zM243 153h1v1h-1zM412 153h1v1h-1zM432 153h1v1h-1zM437 153h1v1h-1zM460 153h1v1h-1zM466 153h1v1h-1zM480 153h1v1h-1zM238 154h1v1h-1zM243 154h1v1h-1zM412 154h1v1h-1zM432 154h1v1h-1zM437 154h1v1h-1zM467 154h1v1h-1zM479 154h1v1h-1zM481 154h1v1h-1zM238 155h1v1h-1zM243 155h1v1h-1zM412 155h1v1h-1zM432 155h1v1h-1zM437 155h1v1h-1zM467 155h1v1h-1zM479 155h1v1h-1zM481 155h1v1h-1zM238 156h1v1h-1zM243 156h1v1h-1zM412 156h1v1h-1zM432 156h1v1h-1zM437 156h1v1h-1zM467 156h1v1h-1zM479 156h1v1h-1zM481 156h1v1h-1zM238 157h1v1h-1zM243 157h1v1h-1zM412 157h1v1h-1zM433 157h1v1h-1zM437 157h1v1h-1zM467 157h1v1h-1zM479 157h1v1h-1zM481 157h1v1h-1zM238 158h1v1h-1zM243 158h1v1h-1zM412 158h1v1h-1zM433 158h1v1h-1zM436 158h1v1h-1zM468 158h1v1h-1zM478 158h1v1h-1zM482 158h1v1h-1zM238 159h1v1h-1zM244 159h1v1h-1zM412 159h1v1h-1zM433 159h1v1h-1zM436 159h1v1h-1zM468 159h1v1h-1zM478 159h1v1h-1zM482 159h1v1h-1zM238 160h1v1h-1zM244 160h1v1h-1zM412 160h1v1h-1zM433 160h1v1h-1zM436 160h1v1h-1zM468 160h1v1h-1zM478 160h1v1h-1zM482 160h1v1h-1zM238 161h1v1h-1zM244 161h1v1h-1zM412 161h1v1h-1zM434 161h1v1h-1zM436 161h1v1h-1zM468 161h1v1h-1zM478 161h1v1h-1zM483 161h1v1h-1zM238 162h1v1h-1zM244 162h1v1h-1zM412 162h1v1h-1zM434 162h1v1h-1zM436 162h1v1h-1zM468 162h1v1h-1zM477 162h1v1h-1zM483 162h1v1h-1zM238 163h1v1h-1zM244 163h1v1h-1zM412 163h1v1h-1zM434 163h1v1h-1zM436 163h1v1h-1zM469 163h1v1h-1zM477 163h1v1h-1zM483 163h1v1h-1zM238 164h1v1h-1zM244 164h1v1h-1zM395 164h1v1h-1zM412 164h1v1h-1zM434 164h2v1h-2zM469 164h1v1h-1zM477 164h1v1h-1zM483 164h1v1h-1zM238 165h1v1h-1zM244 165h1v1h-1zM395 165h1v1h-1zM412 165h1v1h-1zM435 165h1v1h-1zM469 165h1v1h-1zM476 165h1v1h-1zM484 165h1v1h-1zM238 166h1v1h-1zM244 166h1v1h-1zM395 166h1v1h-1zM411 166h1v1h-1zM435 166h1v1h-1zM469 166h1v1h-1zM476 166h1v1h-1zM484 166h1v1h-1zM237 167h1v1h-1zM245 167h1v1h-1zM395 167h2v1h-2zM411 167h1v1h-1zM470 167h1v1h-1zM476 167h1v1h-1zM484 167h1v1h-1zM565 167h1v1h-1zM237 168h1v1h-1zM245 168h1v1h-1zM395 168h2v1h-2zM411 168h1v1h-1zM470 168h1v1h-1zM476 168h1v1h-1zM484 168h1v1h-1zM565 168h1v1h-1zM237 169h1v1h-1zM245 169h1v1h-1zM394 169h1v1h-1zM396 169h1v1h-1zM411 169h1v1h-1zM470 169h3v1h-3zM475 169h1v1h-1zM485 169h1v1h-1zM565 169h1v1h-1zM237 170h1v1h-1zM245 170h1v1h-1zM394 170h1v1h-1zM396 170h1v1h-1zM411 170h1v1h-1zM473 170h3v1h-3zM485 170h1v1h-1zM565 170h2v1h-2zM237 171h1v1h-1zM245 171h1v1h-1zM394 171h1v1h-1zM396 171h1v1h-1zM411 171h1v1h-1zM486 171h1v1h-1zM565 171h2v1h-2zM237 172h1v1h-1zM245 172h1v1h-1zM394 172h1v1h-1zM397 172h1v1h-1zM411 172h1v1h-1zM487 172h2v1h-2zM494 172h2v1h-2zM565 172h2v1h-2zM237 173h1v1h-1zM245 173h1v1h-1zM394 173h1v1h-1zM397 173h1v1h-1zM405 173h1v1h-1zM411 173h1v1h-1zM489 173h1v1h-1zM492 173h2v1h-2zM495 173h1v1h-1zM564 173h1v1h-1zM566 173h1v1h-1zM237 174h1v1h-1zM245 174h1v1h-1zM394 174h1v1h-1zM397 174h1v1h-1zM405 174h1v1h-1zM411 174h1v1h-1zM490 174h2v1h-2zM495 174h1v1h-1zM564 174h1v1h-1zM566 174h1v1h-1zM237 175h1v1h-1zM246 175h1v1h-1zM394 175h1v1h-1zM397 175h1v1h-1zM404 175h1v1h-1zM406 175h1v1h-1zM411 175h1v1h-1zM495 175h1v1h-1zM564 175h1v1h-1zM567 175h1v1h-1zM237 176h1v1h-1zM246 176h1v1h-1zM394 176h1v1h-1zM397 176h1v1h-1zM404 176h1v1h-1zM406 176h1v1h-1zM411 176h1v1h-1zM496 176h1v1h-1zM564 176h1v1h-1zM567 176h1v1h-1zM237 177h1v1h-1zM246 177h1v1h-1zM393 177h1v1h-1zM398 177h1v1h-1zM404 177h1v1h-1zM406 177h1v1h-1zM411 177h1v1h-1zM496 177h1v1h-1zM564 177h1v1h-1zM567 177h1v1h-1zM237 178h1v1h-1zM246 178h1v1h-1zM393 178h1v1h-1zM398 178h1v1h-1zM403 178h1v1h-1zM407 178h1v1h-1zM411 178h1v1h-1zM496 178h1v1h-1zM564 178h1v1h-1zM567 178h1v1h-1zM237 179h1v1h-1zM246 179h1v1h-1zM393 179h1v1h-1zM398 179h1v1h-1zM403 179h1v1h-1zM407 179h1v1h-1zM411 179h1v1h-1zM496 179h1v1h-1zM564 179h1v1h-1zM567 179h1v1h-1zM236 180h1v1h-1zM246 180h1v1h-1zM393 180h1v1h-1zM398 180h1v1h-1zM403 180h1v1h-1zM408 180h1v1h-1zM410 180h1v1h-1zM496 180h1v1h-1zM564 180h1v1h-1zM568 180h1v1h-1zM236 181h1v1h-1zM246 181h1v1h-1zM393 181h1v1h-1zM398 181h1v1h-1zM403 181h1v1h-1zM408 181h1v1h-1zM410 181h1v1h-1zM496 181h1v1h-1zM564 181h1v1h-1zM568 181h1v1h-1zM236 182h1v1h-1zM246 182h1v1h-1zM393 182h1v1h-1zM399 182h1v1h-1zM402 182h1v1h-1zM408 182h1v1h-1zM410 182h1v1h-1zM496 182h1v1h-1zM564 182h1v1h-1zM568 182h1v1h-1zM236 183h1v1h-1zM247 183h1v1h-1zM393 183h1v1h-1zM399 183h1v1h-1zM402 183h1v1h-1zM409 183h2v1h-2zM497 183h1v1h-1zM563 183h1v1h-1zM568 183h1v1h-1zM580 183h1v1h-1zM236 184h1v1h-1zM247 184h1v1h-1zM393 184h1v1h-1zM399 184h1v1h-1zM402 184h1v1h-1zM409 184h2v1h-2zM497 184h1v1h-1zM563 184h1v1h-1zM568 184h1v1h-1zM580 184h1v1h-1zM236 185h1v1h-1zM247 185h1v1h-1zM393 185h1v1h-1zM399 185h1v1h-1zM401 185h1v1h-1zM409 185h2v1h-2zM497 185h1v1h-1zM563 185h1v1h-1zM568 185h1v1h-1zM580 185h2v1h-2zM236 186h1v1h-1zM247 186h1v1h-1zM392 186h1v1h-1zM399 186h1v1h-1zM401 186h1v1h-1zM410 186h1v1h-1zM497 186h1v1h-1zM563 186h1v1h-1zM569 186h1v1h-1zM579 186h1v1h-1zM581 186h1v1h-1zM236 187h1v1h-1zM247 187h1v1h-1zM392 187h1v1h-1zM400 187h2v1h-2zM410 187h1v1h-1zM497 187h1v1h-1zM563 187h1v1h-1zM569 187h1v1h-1zM579 187h1v1h-1zM581 187h1v1h-1zM236 188h1v1h-1zM247 188h1v1h-1zM392 188h1v1h-1zM400 188h1v1h-1zM497 188h1v1h-1zM563 188h1v1h-1zM569 188h1v1h-1zM579 188h1v1h-1zM582 188h1v1h-1zM236 189h1v1h-1zM247 189h1v1h-1zM392 189h1v1h-1zM400 189h1v1h-1zM497 189h1v1h-1zM555 189h1v1h-1zM563 189h1v1h-1zM569 189h1v1h-1zM579 189h1v1h-1zM582 189h1v1h-1zM605 189h1v1h-1zM236 190h1v1h-1zM247 190h1v1h-1zM392 190h1v1h-1zM498 190h1v1h-1zM555 190h1v1h-1zM563 190h1v1h-1zM569 190h1v1h-1zM579 190h1v1h-1zM583 190h1v1h-1zM605 190h1v1h-1zM236 191h1v1h-1zM248 191h1v1h-1zM392 191h1v1h-1zM498 191h1v1h-1zM555 191h1v1h-1zM563 191h1v1h-1zM570 191h1v1h-1zM579 191h1v1h-1zM583 191h1v1h-1zM605 191h2v1h-2zM236 192h1v1h-1zM248 192h1v1h-1zM392 192h1v1h-1zM498 192h1v1h-1zM555 192h2v1h-2zM563 192h1v1h-1zM570 192h1v1h-1zM578 192h1v1h-1zM583 192h1v1h-1zM605 192h2v1h-2zM236 193h1v1h-1zM248 193h1v1h-1zM392 193h1v1h-1zM498 193h1v1h-1zM554 193h1v1h-1zM556 193h1v1h-1zM562 193h1v1h-1zM570 193h1v1h-1zM578 193h1v1h-1zM584 193h1v1h-1zM605 193h2v1h-2zM235 194h1v1h-1zM248 194h1v1h-1zM392 194h1v1h-1zM498 194h1v1h-1zM554 194h1v1h-1zM556 194h1v1h-1zM562 194h1v1h-1zM570 194h1v1h-1zM578 194h1v1h-1zM584 194h1v1h-1zM605 194h2v1h-2zM235 195h1v1h-1zM248 195h1v1h-1zM391 195h1v1h-1zM498 195h1v1h-1zM554 195h1v1h-1zM556 195h1v1h-1zM562 195h1v1h-1zM571 195h1v1h-1zM578 195h1v1h-1zM584 195h1v1h-1zM604 195h1v1h-1zM607 195h1v1h-1zM235 196h1v1h-1zM248 196h1v1h-1zM391 196h1v1h-1zM498 196h1v1h-1zM554 196h1v1h-1zM556 196h1v1h-1zM562 196h1v1h-1zM571 196h1v1h-1zM578 196h1v1h-1zM585 196h1v1h-1zM604 196h1v1h-1zM607 196h1v1h-1zM235 197h1v1h-1zM248 197h1v1h-1zM370 197h6v1h-6zM391 197h1v1h-1zM499 197h1v1h-1zM554 197h1v1h-1zM556 197h1v1h-1zM562 197h1v1h-1zM571 197h1v1h-1zM578 197h1v1h-1zM585 197h1v1h-1zM604 197h1v1h-1zM607 197h1v1h-1zM235 198h1v1h-1zM248 198h1v1h-1zM370 198h1v1h-1zM375 198h1v1h-1zM391 198h1v1h-1zM499 198h1v1h-1zM554 198h1v1h-1zM557 198h1v1h-1zM562 198h1v1h-1zM571 198h1v1h-1zM577 198h1v1h-1zM585 198h1v1h-1zM604 198h1v1h-1zM608 198h1v1h-1zM235 199h1v1h-1zM248 199h1v1h-1zM369 199h1v1h-1zM376 199h1v1h-1zM391 199h1v1h-1zM499 199h1v1h-1zM554 199h1v1h-1zM557 199h1v1h-1zM562 199h1v1h-1zM572 199h1v1h-1zM577 199h1v1h-1zM585 199h1v1h-1zM604 199h1v1h-1zM608 199h1v1h-1zM235 200h1v1h-1zM249 200h1v1h-1zM369 200h1v1h-1zM376 200h1v1h-1zM391 200h1v1h-1zM499 200h1v1h-1zM554 200h1v1h-1zM557 200h1v1h-1zM562 200h1v1h-1zM572 200h1v1h-1zM577 200h1v1h-1zM585 200h1v1h-1zM604 200h1v1h-1zM608 200h1v1h-1zM235 201h1v1h-1zM249 201h1v1h-1zM369 201h1v1h-1zM376 201h1v1h-1zM391 201h1v1h-1zM499 201h1v1h-1zM553 201h1v1h-1zM557 201h1v1h-1zM562 201h1v1h-1zM572 201h1v1h-1zM577 201h1v1h-1zM586 201h1v1h-1zM604 201h1v1h-1zM609 201h1v1h-1zM235 202h1v1h-1zM249 202h1v1h-1zM369 202h1v1h-1zM376 202h1v1h-1zM391 202h1v1h-1zM499 202h1v1h-1zM553 202h1v1h-1zM557 202h1v1h-1zM562 202h1v1h-1zM572 202h1v1h-1zM577 202h1v1h-1zM586 202h1v1h-1zM604 202h1v1h-1zM609 202h1v1h-1zM235 203h1v1h-1zM249 203h1v1h-1zM368 203h1v1h-1zM377 203h1v1h-1zM390 203h1v1h-1zM499 203h1v1h-1zM553 203h1v1h-1zM557 203h1v1h-1zM561 203h1v1h-1zM573 203h1v1h-1zM577 203h1v1h-1zM586 203h1v1h-1zM604 203h1v1h-1zM609 203h1v1h-1zM235 204h1v1h-1zM249 204h1v1h-1zM360 204h1v1h-1zM368 204h1v1h-1zM377 204h1v1h-1zM390 204h1v1h-1zM500 204h1v1h-1zM553 204h1v1h-1zM558 204h1v1h-1zM561 204h1v1h-1zM573 204h1v1h-1zM576 204h1v1h-1zM586 204h1v1h-1zM604 204h1v1h-1zM609 204h1v1h-1zM235 205h1v1h-1zM249 205h1v1h-1zM360 205h2v1h-2zM368 205h1v1h-1zM377 205h1v1h-1zM390 205h1v1h-1zM500 205h1v1h-1zM553 205h1v1h-1zM558 205h1v1h-1zM561 205h1v1h-1zM573 205h1v1h-1zM576 205h1v1h-1zM586 205h1v1h-1zM603 205h1v1h-1zM610 205h1v1h-1zM235 206h1v1h-1zM249 206h1v1h-1zM359 206h1v1h-1zM361 206h1v1h-1zM367 206h1v1h-1zM378 206h1v1h-1zM390 206h1v1h-1zM500 206h1v1h-1zM553 206h1v1h-1zM558 206h1v1h-1zM561 206h1v1h-1zM573 206h1v1h-1zM576 206h1v1h-1zM586 206h1v1h-1zM603 206h1v1h-1zM610 206h1v1h-1zM234 207h1v1h-1zM249 207h1v1h-1zM359 207h1v1h-1zM362 207h1v1h-1zM367 207h1v1h-1zM378 207h1v1h-1zM390 207h1v1h-1zM500 207h1v1h-1zM553 207h1v1h-1zM558 207h1v1h-1zM561 207h1v1h-1zM574 207h1v1h-1zM576 207h1v1h-1zM586 207h1v1h-1zM603 207h1v1h-1zM611 207h1v1h-1zM234 208h1v1h-1zM250 208h1v1h-1zM359 208h1v1h-1zM362 208h1v1h-1zM367 208h1v1h-1zM378 208h1v1h-1zM390 208h1v1h-1zM501 208h1v1h-1zM553 208h1v1h-1zM558 208h1v1h-1zM561 208h1v1h-1zM574 208h1v1h-1zM576 208h1v1h-1zM587 208h1v1h-1zM603 208h1v1h-1zM611 208h1v1h-1zM234 209h1v1h-1zM250 209h1v1h-1zM359 209h1v1h-1zM363 209h1v1h-1zM366 209h1v1h-1zM379 209h1v1h-1zM389 209h1v1h-1zM502 209h2v1h-2zM552 209h1v1h-1zM558 209h1v1h-1zM561 209h1v1h-1zM574 209h1v1h-1zM576 209h1v1h-1zM587 209h1v1h-1zM603 209h1v1h-1zM612 209h1v1h-1zM234 210h1v1h-1zM250 210h1v1h-1zM358 210h1v1h-1zM363 210h1v1h-1zM366 210h1v1h-1zM379 210h1v1h-1zM389 210h1v1h-1zM504 210h1v1h-1zM552 210h1v1h-1zM559 210h1v1h-1zM561 210h1v1h-1zM574 210h2v1h-2zM587 210h1v1h-1zM603 210h1v1h-1zM612 210h1v1h-1zM630 210h1v1h-1zM234 211h1v1h-1zM250 211h1v1h-1zM358 211h1v1h-1zM364 211h1v1h-1zM366 211h1v1h-1zM379 211h1v1h-1zM389 211h1v1h-1zM505 211h1v1h-1zM552 211h1v1h-1zM559 211h1v1h-1zM561 211h1v1h-1zM575 211h1v1h-1zM587 211h1v1h-1zM603 211h1v1h-1zM613 211h1v1h-1zM630 211h1v1h-1zM234 212h1v1h-1zM250 212h1v1h-1zM358 212h1v1h-1zM364 212h1v1h-1zM366 212h1v1h-1zM379 212h1v1h-1zM389 212h1v1h-1zM505 212h1v1h-1zM552 212h1v1h-1zM559 212h1v1h-1zM561 212h1v1h-1zM575 212h1v1h-1zM587 212h1v1h-1zM603 212h1v1h-1zM613 212h1v1h-1zM630 212h1v1h-1zM234 213h1v1h-1zM250 213h1v1h-1zM358 213h1v1h-1zM365 213h1v1h-1zM380 213h1v1h-1zM388 213h1v1h-1zM506 213h1v1h-1zM552 213h1v1h-1zM559 213h2v1h-2zM587 213h1v1h-1zM603 213h1v1h-1zM614 213h1v1h-1zM629 213h1v1h-1zM631 213h1v1h-1zM234 214h1v1h-1zM251 214h1v1h-1zM357 214h1v1h-1zM365 214h1v1h-1zM380 214h1v1h-1zM388 214h1v1h-1zM506 214h1v1h-1zM552 214h1v1h-1zM559 214h2v1h-2zM587 214h1v1h-1zM603 214h1v1h-1zM614 214h1v1h-1zM629 214h1v1h-1zM631 214h1v1h-1zM234 215h1v1h-1zM251 215h1v1h-1zM357 215h1v1h-1zM380 215h1v1h-1zM388 215h1v1h-1zM506 215h1v1h-1zM552 215h1v1h-1zM559 215h2v1h-2zM588 215h1v1h-1zM602 215h1v1h-1zM615 215h1v1h-1zM629 215h1v1h-1zM631 215h1v1h-1zM234 216h1v1h-1zM252 216h1v1h-1zM357 216h1v1h-1zM381 216h1v1h-1zM388 216h1v1h-1zM507 216h1v1h-1zM552 216h1v1h-1zM560 216h1v1h-1zM588 216h1v1h-1zM602 216h1v1h-1zM615 216h1v1h-1zM629 216h1v1h-1zM631 216h1v1h-1zM234 217h1v1h-1zM252 217h1v1h-1zM356 217h1v1h-1zM381 217h1v1h-1zM387 217h1v1h-1zM507 217h1v1h-1zM551 217h1v1h-1zM560 217h1v1h-1zM588 217h1v1h-1zM602 217h1v1h-1zM616 217h1v1h-1zM629 217h1v1h-1zM631 217h1v1h-1zM234 218h1v1h-1zM253 218h1v1h-1zM356 218h1v1h-1zM382 218h1v1h-1zM387 218h1v1h-1zM507 218h1v1h-1zM551 218h1v1h-1zM560 218h1v1h-1zM588 218h1v1h-1zM602 218h1v1h-1zM616 218h1v1h-1zM629 218h1v1h-1zM632 218h1v1h-1zM234 219h1v1h-1zM253 219h1v1h-1zM356 219h1v1h-1zM382 219h1v1h-1zM387 219h1v1h-1zM508 219h1v1h-1zM551 219h1v1h-1zM588 219h1v1h-1zM602 219h1v1h-1zM617 219h1v1h-1zM628 219h1v1h-1zM632 219h1v1h-1zM234 220h1v1h-1zM254 220h1v1h-1zM356 220h1v1h-1zM383 220h1v1h-1zM386 220h1v1h-1zM508 220h1v1h-1zM551 220h1v1h-1zM588 220h1v1h-1zM602 220h1v1h-1zM617 220h1v1h-1zM628 220h1v1h-1zM632 220h1v1h-1zM233 221h1v1h-1zM254 221h1v1h-1zM355 221h1v1h-1zM383 221h1v1h-1zM386 221h1v1h-1zM508 221h1v1h-1zM525 221h1v1h-1zM535 221h1v1h-1zM551 221h1v1h-1zM588 221h1v1h-1zM602 221h1v1h-1zM618 221h1v1h-1zM628 221h1v1h-1zM632 221h1v1h-1zM233 222h1v1h-1zM255 222h1v1h-1zM355 222h1v1h-1zM384 222h1v1h-1zM386 222h1v1h-1zM508 222h1v1h-1zM525 222h2v1h-2zM534 222h2v1h-2zM551 222h1v1h-1zM588 222h1v1h-1zM602 222h1v1h-1zM618 222h1v1h-1zM628 222h1v1h-1zM633 222h1v1h-1zM233 223h1v1h-1zM255 223h1v1h-1zM355 223h1v1h-1zM384 223h1v1h-1zM386 223h1v1h-1zM509 223h1v1h-1zM524 223h1v1h-1zM526 223h1v1h-1zM534 223h1v1h-1zM536 223h1v1h-1zM551 223h1v1h-1zM589 223h1v1h-1zM602 223h1v1h-1zM619 223h1v1h-1zM628 223h1v1h-1zM633 223h1v1h-1zM675 223h1v1h-1zM233 224h1v1h-1zM255 224h1v1h-1zM354 224h1v1h-1zM385 224h1v1h-1zM509 224h1v1h-1zM524 224h1v1h-1zM527 224h1v1h-1zM533 224h1v1h-1zM536 224h1v1h-1zM551 224h1v1h-1zM589 224h1v1h-1zM595 224h1v1h-1zM602 224h1v1h-1zM619 224h1v1h-1zM628 224h1v1h-1zM633 224h1v1h-1zM675 224h1v1h-1zM233 225h1v1h-1zM255 225h1v1h-1zM354 225h1v1h-1zM385 225h1v1h-1zM509 225h1v1h-1zM524 225h1v1h-1zM528 225h1v1h-1zM532 225h1v1h-1zM537 225h1v1h-1zM550 225h1v1h-1zM589 225h1v1h-1zM594 225h2v1h-2zM601 225h1v1h-1zM620 225h1v1h-1zM627 225h1v1h-1zM633 225h1v1h-1zM674 225h2v1h-2zM233 226h1v1h-1zM255 226h1v1h-1zM354 226h1v1h-1zM510 226h1v1h-1zM523 226h1v1h-1zM529 226h1v1h-1zM531 226h1v1h-1zM537 226h1v1h-1zM550 226h1v1h-1zM589 226h1v1h-1zM594 226h1v1h-1zM596 226h1v1h-1zM601 226h1v1h-1zM620 226h1v1h-1zM627 226h1v1h-1zM633 226h1v1h-1zM674 226h1v1h-1zM676 226h1v1h-1zM233 227h1v1h-1zM255 227h1v1h-1zM353 227h1v1h-1zM510 227h1v1h-1zM523 227h1v1h-1zM529 227h1v1h-1zM531 227h1v1h-1zM538 227h1v1h-1zM550 227h1v1h-1zM589 227h1v1h-1zM593 227h1v1h-1zM596 227h1v1h-1zM601 227h1v1h-1zM621 227h1v1h-1zM627 227h1v1h-1zM634 227h1v1h-1zM674 227h1v1h-1zM676 227h1v1h-1zM233 228h1v1h-1zM255 228h1v1h-1zM340 228h1v1h-1zM353 228h1v1h-1zM511 228h1v1h-1zM523 228h1v1h-1zM530 228h1v1h-1zM538 228h1v1h-1zM550 228h1v1h-1zM589 228h1v1h-1zM593 228h1v1h-1zM596 228h1v1h-1zM601 228h1v1h-1zM621 228h1v1h-1zM627 228h1v1h-1zM634 228h1v1h-1zM673 228h1v1h-1zM676 228h1v1h-1zM233 229h1v1h-1zM256 229h1v1h-1zM340 229h1v1h-1zM353 229h1v1h-1zM512 229h2v1h-2zM523 229h1v1h-1zM539 229h1v1h-1zM550 229h1v1h-1zM589 229h1v1h-1zM592 229h1v1h-1zM597 229h1v1h-1zM601 229h1v1h-1zM621 229h1v1h-1zM627 229h1v1h-1zM634 229h1v1h-1zM673 229h1v1h-1zM676 229h1v1h-1zM233 230h1v1h-1zM256 230h1v1h-1zM340 230h1v1h-1zM352 230h1v1h-1zM514 230h1v1h-1zM522 230h1v1h-1zM539 230h1v1h-1zM550 230h1v1h-1zM590 230h1v1h-1zM592 230h1v1h-1zM597 230h1v1h-1zM601 230h1v1h-1zM622 230h1v1h-1zM627 230h1v1h-1zM634 230h1v1h-1zM673 230h1v1h-1zM676 230h1v1h-1zM233 231h1v1h-1zM256 231h1v1h-1zM339 231h1v1h-1zM341 231h1v1h-1zM352 231h1v1h-1zM515 231h1v1h-1zM522 231h1v1h-1zM540 231h1v1h-1zM549 231h1v1h-1zM590 231h2v1h-2zM597 231h1v1h-1zM601 231h1v1h-1zM622 231h1v1h-1zM626 231h1v1h-1zM634 231h1v1h-1zM672 231h1v1h-1zM676 231h1v1h-1zM233 232h1v1h-1zM256 232h1v1h-1zM339 232h1v1h-1zM341 232h1v1h-1zM352 232h1v1h-1zM516 232h1v1h-1zM522 232h1v1h-1zM540 232h1v1h-1zM549 232h1v1h-1zM590 232h2v1h-2zM598 232h1v1h-1zM601 232h1v1h-1zM623 232h1v1h-1zM626 232h1v1h-1zM635 232h1v1h-1zM672 232h1v1h-1zM677 232h1v1h-1zM233 233h1v1h-1zM256 233h1v1h-1zM339 233h1v1h-1zM341 233h1v1h-1zM351 233h1v1h-1zM517 233h1v1h-1zM521 233h1v1h-1zM540 233h1v1h-1zM549 233h1v1h-1zM590 233h1v1h-1zM598 233h1v1h-1zM601 233h1v1h-1zM623 233h1v1h-1zM626 233h1v1h-1zM635 233h1v1h-1zM671 233h1v1h-1zM677 233h1v1h-1zM233 234h1v1h-1zM256 234h1v1h-1zM339 234h1v1h-1zM341 234h1v1h-1zM351 234h1v1h-1zM518 234h1v1h-1zM521 234h1v1h-1zM541 234h1v1h-1zM549 234h1v1h-1zM598 234h1v1h-1zM601 234h1v1h-1zM623 234h1v1h-1zM626 234h1v1h-1zM635 234h1v1h-1zM671 234h1v1h-1zM677 234h1v1h-1zM735 234h1v1h-1zM232 235h1v1h-1zM256 235h1v1h-1zM338 235h1v1h-1zM342 235h1v1h-1zM351 235h1v1h-1zM518 235h1v1h-1zM521 235h1v1h-1zM541 235h1v1h-1zM548 235h1v1h-1zM599 235h2v1h-2zM624 235h1v1h-1zM626 235h1v1h-1zM636 235h1v1h-1zM671 235h1v1h-1zM677 235h1v1h-1zM733 235h3v1h-3zM232 236h1v1h-1zM256 236h1v1h-1zM338 236h1v1h-1zM342 236h1v1h-1zM350 236h1v1h-1zM519 236h2v1h-2zM541 236h1v1h-1zM548 236h1v1h-1zM599 236h2v1h-2zM624 236h1v1h-1zM626 236h1v1h-1zM636 236h1v1h-1zM670 236h1v1h-1zM677 236h1v1h-1zM731 236h2v1h-2zM736 236h1v1h-1zM232 237h1v1h-1zM256 237h1v1h-1zM338 237h1v1h-1zM342 237h1v1h-1zM350 237h1v1h-1zM520 237h1v1h-1zM541 237h1v1h-1zM548 237h1v1h-1zM599 237h2v1h-2zM624 237h2v1h-2zM637 237h1v1h-1zM645 237h1v1h-1zM670 237h1v1h-1zM678 237h1v1h-1zM730 237h1v1h-1zM736 237h1v1h-1zM232 238h1v1h-1zM256 238h1v1h-1zM338 238h1v1h-1zM342 238h1v1h-1zM350 238h1v1h-1zM542 238h1v1h-1zM548 238h1v1h-1zM600 238h1v1h-1zM625 238h1v1h-1zM638 238h1v1h-1zM644 238h1v1h-1zM646 238h1v1h-1zM670 238h1v1h-1zM678 238h1v1h-1zM730 238h1v1h-1zM736 238h1v1h-1zM232 239h1v1h-1zM257 239h1v1h-1zM338 239h1v1h-1zM343 239h1v1h-1zM349 239h1v1h-1zM542 239h1v1h-1zM547 239h1v1h-1zM600 239h1v1h-1zM625 239h1v1h-1zM638 239h1v1h-1zM643 239h1v1h-1zM646 239h1v1h-1zM669 239h1v1h-1zM678 239h1v1h-1zM729 239h1v1h-1zM737 239h1v1h-1zM232 240h1v1h-1zM257 240h1v1h-1zM337 240h1v1h-1zM343 240h1v1h-1zM349 240h1v1h-1zM542 240h1v1h-1zM547 240h1v1h-1zM639 240h1v1h-1zM642 240h1v1h-1zM647 240h1v1h-1zM669 240h1v1h-1zM678 240h1v1h-1zM729 240h1v1h-1zM737 240h1v1h-1zM232 241h1v1h-1zM257 241h1v1h-1zM337 241h1v1h-1zM343 241h1v1h-1zM348 241h1v1h-1zM543 241h1v1h-1zM547 241h1v1h-1zM639 241h1v1h-1zM641 241h1v1h-1zM648 241h1v1h-1zM669 241h1v1h-1zM678 241h1v1h-1zM729 241h1v1h-1zM737 241h1v1h-1zM232 242h1v1h-1zM257 242h1v1h-1zM337 242h1v1h-1zM343 242h1v1h-1zM348 242h1v1h-1zM543 242h1v1h-1zM547 242h1v1h-1zM640 242h1v1h-1zM649 242h1v1h-1zM668 242h1v1h-1zM678 242h1v1h-1zM728 242h1v1h-1zM738 242h1v1h-1zM70 243h1v1h-1zM232 243h1v1h-1zM257 243h1v1h-1zM337 243h1v1h-1zM343 243h1v1h-1zM348 243h1v1h-1zM543 243h1v1h-1zM546 243h1v1h-1zM649 243h1v1h-1zM653 243h3v1h-3zM668 243h1v1h-1zM679 243h1v1h-1zM705 243h1v1h-1zM728 243h1v1h-1zM738 243h1v1h-1zM70 244h1v1h-1zM232 244h1v1h-1zM257 244h1v1h-1zM336 244h1v1h-1zM344 244h1v1h-1zM347 244h1v1h-1zM544 244h1v1h-1zM546 244h1v1h-1zM650 244h3v1h-3zM655 244h1v1h-1zM668 244h1v1h-1zM679 244h1v1h-1zM703 244h2v1h-2zM706 244h1v1h-1zM728 244h1v1h-1zM738 244h1v1h-1zM45 245h1v1h-1zM70 245h1v1h-1zM232 245h1v1h-1zM257 245h1v1h-1zM336 245h1v1h-1zM344 245h1v1h-1zM347 245h1v1h-1zM544 245h1v1h-1zM546 245h1v1h-1zM656 245h1v1h-1zM667 245h1v1h-1zM679 245h1v1h-1zM701 245h2v1h-2zM706 245h1v1h-1zM727 245h1v1h-1zM739 245h1v1h-1zM45 246h1v1h-1zM70 246h2v1h-2zM232 246h1v1h-1zM257 246h1v1h-1zM336 246h1v1h-1zM344 246h1v1h-1zM347 246h1v1h-1zM544 246h1v1h-1zM546 246h1v1h-1zM656 246h1v1h-1zM667 246h1v1h-1zM679 246h1v1h-1zM700 246h1v1h-1zM707 246h1v1h-1zM727 246h1v1h-1zM739 246h1v1h-1zM44 247h1v1h-1zM46 247h1v1h-1zM69 247h1v1h-1zM71 247h1v1h-1zM232 247h1v1h-1zM257 247h1v1h-1zM336 247h1v1h-1zM344 247h1v1h-1zM346 247h1v1h-1zM544 247h2v1h-2zM656 247h1v1h-1zM666 247h1v1h-1zM679 247h1v1h-1zM700 247h1v1h-1zM708 247h1v1h-1zM726 247h1v1h-1zM739 247h1v1h-1zM744 247h2v1h-2zM44 248h1v1h-1zM46 248h1v1h-1zM69 248h1v1h-1zM71 248h1v1h-1zM85 248h1v1h-1zM232 248h1v1h-1zM257 248h1v1h-1zM335 248h1v1h-1zM345 248h2v1h-2zM545 248h1v1h-1zM656 248h1v1h-1zM666 248h1v1h-1zM679 248h1v1h-1zM700 248h1v1h-1zM708 248h1v1h-1zM726 248h1v1h-1zM740 248h1v1h-1zM742 248h2v1h-2zM745 248h1v1h-1zM43 249h1v1h-1zM46 249h1v1h-1zM69 249h1v1h-1zM71 249h1v1h-1zM85 249h1v1h-1zM231 249h1v1h-1zM258 249h1v1h-1zM335 249h1v1h-1zM345 249h1v1h-1zM545 249h1v1h-1zM657 249h1v1h-1zM666 249h1v1h-1zM680 249h1v1h-1zM700 249h1v1h-1zM709 249h1v1h-1zM726 249h1v1h-1zM740 249h2v1h-2zM745 249h1v1h-1zM43 250h1v1h-1zM46 250h1v1h-1zM69 250h1v1h-1zM71 250h1v1h-1zM84 250h1v1h-1zM86 250h1v1h-1zM231 250h1v1h-1zM258 250h1v1h-1zM330 250h6v1h-6zM345 250h1v1h-1zM657 250h1v1h-1zM665 250h1v1h-1zM680 250h1v1h-1zM700 250h1v1h-1zM709 250h1v1h-1zM725 250h1v1h-1zM746 250h1v1h-1zM43 251h1v1h-1zM47 251h1v1h-1zM69 251h1v1h-1zM71 251h1v1h-1zM84 251h1v1h-1zM86 251h1v1h-1zM231 251h1v1h-1zM258 251h1v1h-1zM330 251h1v1h-1zM657 251h1v1h-1zM665 251h1v1h-1zM680 251h1v1h-1zM699 251h1v1h-1zM710 251h1v1h-1zM725 251h1v1h-1zM746 251h1v1h-1zM42 252h1v1h-1zM47 252h1v1h-1zM69 252h1v1h-1zM72 252h1v1h-1zM83 252h1v1h-1zM87 252h1v1h-1zM231 252h1v1h-1zM258 252h1v1h-1zM329 252h1v1h-1zM657 252h1v1h-1zM665 252h1v1h-1zM680 252h1v1h-1zM699 252h1v1h-1zM710 252h1v1h-1zM724 252h1v1h-1zM746 252h1v1h-1zM42 253h1v1h-1zM47 253h1v1h-1zM55 253h1v1h-1zM69 253h1v1h-1zM72 253h1v1h-1zM83 253h1v1h-1zM87 253h1v1h-1zM231 253h1v1h-1zM258 253h1v1h-1zM329 253h1v1h-1zM658 253h1v1h-1zM664 253h1v1h-1zM681 253h1v1h-1zM699 253h1v1h-1zM710 253h1v1h-1zM724 253h1v1h-1zM746 253h1v1h-1zM41 254h1v1h-1zM47 254h1v1h-1zM55 254h2v1h-2zM68 254h1v1h-1zM72 254h1v1h-1zM82 254h1v1h-1zM87 254h1v1h-1zM231 254h1v1h-1zM258 254h1v1h-1zM328 254h1v1h-1zM658 254h1v1h-1zM664 254h1v1h-1zM681 254h1v1h-1zM699 254h1v1h-1zM711 254h1v1h-1zM723 254h1v1h-1zM747 254h1v1h-1zM41 255h1v1h-1zM48 255h1v1h-1zM54 255h1v1h-1zM56 255h1v1h-1zM68 255h1v1h-1zM72 255h1v1h-1zM82 255h1v1h-1zM88 255h1v1h-1zM231 255h1v1h-1zM258 255h1v1h-1zM328 255h1v1h-1zM658 255h1v1h-1zM663 255h1v1h-1zM681 255h1v1h-1zM699 255h1v1h-1zM711 255h1v1h-1zM722 255h1v1h-1zM747 255h1v1h-1zM40 256h1v1h-1zM48 256h1v1h-1zM54 256h1v1h-1zM57 256h1v1h-1zM68 256h1v1h-1zM72 256h1v1h-1zM81 256h1v1h-1zM88 256h1v1h-1zM231 256h1v1h-1zM258 256h1v1h-1zM328 256h1v1h-1zM658 256h1v1h-1zM663 256h1v1h-1zM681 256h1v1h-1zM699 256h1v1h-1zM711 256h1v1h-1zM721 256h1v1h-1zM747 256h1v1h-1zM40 257h1v1h-1zM48 257h1v1h-1zM53 257h1v1h-1zM57 257h1v1h-1zM68 257h1v1h-1zM72 257h1v1h-1zM81 257h1v1h-1zM88 257h1v1h-1zM231 257h1v1h-1zM258 257h1v1h-1zM327 257h1v1h-1zM659 257h1v1h-1zM663 257h1v1h-1zM682 257h1v1h-1zM699 257h1v1h-1zM711 257h1v1h-1zM721 257h1v1h-1zM747 257h1v1h-1zM48 258h1v1h-1zM53 258h1v1h-1zM58 258h1v1h-1zM68 258h1v1h-1zM73 258h1v1h-1zM80 258h1v1h-1zM89 258h1v1h-1zM231 258h1v1h-1zM258 258h1v1h-1zM327 258h1v1h-1zM659 258h1v1h-1zM662 258h1v1h-1zM682 258h1v1h-1zM699 258h1v1h-1zM711 258h1v1h-1zM720 258h1v1h-1zM747 258h1v1h-1zM49 259h1v1h-1zM52 259h1v1h-1zM58 259h1v1h-1zM68 259h1v1h-1zM73 259h1v1h-1zM80 259h1v1h-1zM89 259h1v1h-1zM231 259h1v1h-1zM258 259h1v1h-1zM326 259h1v1h-1zM659 259h1v1h-1zM662 259h1v1h-1zM682 259h1v1h-1zM698 259h1v1h-1zM711 259h1v1h-1zM720 259h1v1h-1zM748 259h1v1h-1zM49 260h1v1h-1zM52 260h1v1h-1zM59 260h1v1h-1zM68 260h1v1h-1zM73 260h1v1h-1zM80 260h1v1h-1zM90 260h1v1h-1zM231 260h1v1h-1zM259 260h1v1h-1zM326 260h1v1h-1zM659 260h1v1h-1zM661 260h1v1h-1zM682 260h1v1h-1zM698 260h1v1h-1zM712 260h1v1h-1zM720 260h1v1h-1zM748 260h1v1h-1zM49 261h1v1h-1zM51 261h1v1h-1zM59 261h1v1h-1zM68 261h1v1h-1zM73 261h1v1h-1zM79 261h1v1h-1zM90 261h1v1h-1zM231 261h1v1h-1zM259 261h1v1h-1zM325 261h1v1h-1zM660 261h2v1h-2zM683 261h1v1h-1zM698 261h1v1h-1zM712 261h1v1h-1zM719 261h1v1h-1zM748 261h1v1h-1zM49 262h1v1h-1zM51 262h1v1h-1zM60 262h1v1h-1zM67 262h1v1h-1zM73 262h1v1h-1zM79 262h1v1h-1zM90 262h1v1h-1zM105 262h1v1h-1zM231 262h1v1h-1zM259 262h1v1h-1zM320 262h6v1h-6zM660 262h1v1h-1zM683 262h1v1h-1zM698 262h1v1h-1zM712 262h1v1h-1zM719 262h1v1h-1zM748 262h1v1h-1zM50 263h1v1h-1zM60 263h1v1h-1zM67 263h1v1h-1zM73 263h1v1h-1zM79 263h1v1h-1zM91 263h1v1h-1zM105 263h2v1h-2zM230 263h1v1h-1zM259 263h1v1h-1zM319 263h1v1h-1zM660 263h1v1h-1zM683 263h1v1h-1zM690 263h1v1h-1zM698 263h1v1h-1zM712 263h1v1h-1zM719 263h1v1h-1zM748 263h1v1h-1zM50 264h1v1h-1zM60 264h1v1h-1zM67 264h1v1h-1zM74 264h1v1h-1zM78 264h1v1h-1zM91 264h1v1h-1zM104 264h1v1h-1zM107 264h2v1h-2zM230 264h1v1h-1zM259 264h1v1h-1zM319 264h1v1h-1zM683 264h1v1h-1zM689 264h2v1h-2zM698 264h1v1h-1zM712 264h1v1h-1zM719 264h1v1h-1zM749 264h1v1h-1zM755 264h1v1h-1zM61 265h1v1h-1zM67 265h1v1h-1zM74 265h1v1h-1zM78 265h1v1h-1zM92 265h1v1h-1zM104 265h1v1h-1zM109 265h1v1h-1zM230 265h1v1h-1zM259 265h1v1h-1zM318 265h1v1h-1zM684 265h1v1h-1zM689 265h2v1h-2zM698 265h1v1h-1zM713 265h1v1h-1zM718 265h1v1h-1zM749 265h1v1h-1zM754 265h1v1h-1zM61 266h1v1h-1zM67 266h1v1h-1zM74 266h1v1h-1zM78 266h1v1h-1zM92 266h1v1h-1zM103 266h1v1h-1zM110 266h1v1h-1zM230 266h1v1h-1zM259 266h1v1h-1zM318 266h1v1h-1zM684 266h1v1h-1zM688 266h1v1h-1zM691 266h1v1h-1zM698 266h1v1h-1zM713 266h1v1h-1zM718 266h1v1h-1zM749 266h1v1h-1zM753 266h1v1h-1zM61 267h1v1h-1zM67 267h1v1h-1zM74 267h1v1h-1zM77 267h1v1h-1zM92 267h1v1h-1zM103 267h1v1h-1zM110 267h1v1h-1zM220 267h1v1h-1zM230 267h1v1h-1zM259 267h1v1h-1zM317 267h1v1h-1zM684 267h1v1h-1zM688 267h1v1h-1zM691 267h1v1h-1zM698 267h1v1h-1zM713 267h1v1h-1zM718 267h1v1h-1zM749 267h1v1h-1zM753 267h1v1h-1zM62 268h1v1h-1zM67 268h1v1h-1zM74 268h1v1h-1zM77 268h1v1h-1zM93 268h1v1h-1zM102 268h1v1h-1zM110 268h1v1h-1zM220 268h1v1h-1zM230 268h1v1h-1zM259 268h1v1h-1zM317 268h1v1h-1zM684 268h1v1h-1zM687 268h1v1h-1zM691 268h1v1h-1zM697 268h1v1h-1zM713 268h1v1h-1zM718 268h1v1h-1zM750 268h1v1h-1zM752 268h1v1h-1zM62 269h1v1h-1zM66 269h1v1h-1zM74 269h1v1h-1zM76 269h1v1h-1zM93 269h1v1h-1zM102 269h1v1h-1zM110 269h1v1h-1zM220 269h2v1h-2zM230 269h1v1h-1zM259 269h1v1h-1zM316 269h1v1h-1zM685 269h2v1h-2zM691 269h1v1h-1zM697 269h1v1h-1zM713 269h1v1h-1zM717 269h1v1h-1zM750 269h2v1h-2zM62 270h1v1h-1zM66 270h1v1h-1zM75 270h2v1h-2zM93 270h1v1h-1zM101 270h1v1h-1zM111 270h1v1h-1zM220 270h2v1h-2zM230 270h1v1h-1zM260 270h1v1h-1zM316 270h1v1h-1zM685 270h2v1h-2zM691 270h1v1h-1zM697 270h1v1h-1zM713 270h1v1h-1zM717 270h1v1h-1zM750 270h1v1h-1zM63 271h1v1h-1zM66 271h1v1h-1zM75 271h2v1h-2zM94 271h1v1h-1zM101 271h1v1h-1zM111 271h1v1h-1zM219 271h1v1h-1zM221 271h1v1h-1zM229 271h1v1h-1zM260 271h1v1h-1zM315 271h1v1h-1zM685 271h1v1h-1zM692 271h1v1h-1zM697 271h1v1h-1zM714 271h1v1h-1zM717 271h1v1h-1zM63 272h1v1h-1zM66 272h1v1h-1zM75 272h1v1h-1zM94 272h1v1h-1zM99 272h2v1h-2zM111 272h1v1h-1zM219 272h1v1h-1zM222 272h1v1h-1zM229 272h1v1h-1zM260 272h1v1h-1zM314 272h1v1h-1zM692 272h1v1h-1zM697 272h1v1h-1zM714 272h1v1h-1zM717 272h1v1h-1zM63 273h1v1h-1zM66 273h1v1h-1zM75 273h1v1h-1zM95 273h1v1h-1zM97 273h2v1h-2zM111 273h1v1h-1zM219 273h1v1h-1zM222 273h1v1h-1zM229 273h1v1h-1zM260 273h1v1h-1zM314 273h1v1h-1zM692 273h1v1h-1zM697 273h1v1h-1zM714 273h1v1h-1zM716 273h1v1h-1zM63 274h1v1h-1zM66 274h1v1h-1zM95 274h2v1h-2zM111 274h1v1h-1zM219 274h1v1h-1zM222 274h1v1h-1zM228 274h1v1h-1zM260 274h1v1h-1zM313 274h1v1h-1zM692 274h1v1h-1zM697 274h1v1h-1zM714 274h1v1h-1zM716 274h1v1h-1zM64 275h1v1h-1zM66 275h1v1h-1zM111 275h1v1h-1zM219 275h1v1h-1zM223 275h1v1h-1zM228 275h1v1h-1zM260 275h1v1h-1zM300 275h1v1h-1zM312 275h1v1h-1zM692 275h1v1h-1zM697 275h1v1h-1zM714 275h1v1h-1zM716 275h1v1h-1zM64 276h2v1h-2zM111 276h1v1h-1zM145 276h3v1h-3zM219 276h1v1h-1zM223 276h1v1h-1zM228 276h1v1h-1zM260 276h1v1h-1zM300 276h2v1h-2zM311 276h1v1h-1zM693 276h1v1h-1zM697 276h1v1h-1zM714 276h1v1h-1zM716 276h1v1h-1zM64 277h2v1h-2zM111 277h1v1h-1zM145 277h1v1h-1zM148 277h3v1h-3zM218 277h1v1h-1zM223 277h1v1h-1zM227 277h1v1h-1zM261 277h1v1h-1zM299 277h1v1h-1zM302 277h1v1h-1zM311 277h1v1h-1zM693 277h1v1h-1zM696 277h1v1h-1zM715 277h1v1h-1zM65 278h1v1h-1zM112 278h1v1h-1zM144 278h1v1h-1zM151 278h1v1h-1zM218 278h1v1h-1zM223 278h1v1h-1zM227 278h1v1h-1zM261 278h1v1h-1zM299 278h1v1h-1zM303 278h1v1h-1zM309 278h2v1h-2zM693 278h1v1h-1zM696 278h1v1h-1zM715 278h1v1h-1zM65 279h1v1h-1zM112 279h1v1h-1zM144 279h1v1h-1zM151 279h1v1h-1zM218 279h1v1h-1zM224 279h1v1h-1zM226 279h1v1h-1zM262 279h1v1h-1zM298 279h1v1h-1zM304 279h1v1h-1zM307 279h2v1h-2zM693 279h1v1h-1zM696 279h1v1h-1zM715 279h1v1h-1zM112 280h1v1h-1zM144 280h1v1h-1zM152 280h1v1h-1zM218 280h1v1h-1zM224 280h1v1h-1zM226 280h1v1h-1zM262 280h1v1h-1zM298 280h1v1h-1zM305 280h2v1h-2zM693 280h1v1h-1zM696 280h1v1h-1zM112 281h1v1h-1zM144 281h1v1h-1zM152 281h1v1h-1zM218 281h1v1h-1zM224 281h1v1h-1zM226 281h1v1h-1zM262 281h1v1h-1zM297 281h1v1h-1zM693 281h1v1h-1zM696 281h1v1h-1zM112 282h1v1h-1zM143 282h1v1h-1zM153 282h1v1h-1zM218 282h1v1h-1zM225 282h1v1h-1zM263 282h1v1h-1zM297 282h1v1h-1zM694 282h1v1h-1zM696 282h1v1h-1zM112 283h1v1h-1zM143 283h1v1h-1zM153 283h1v1h-1zM217 283h1v1h-1zM225 283h1v1h-1zM263 283h1v1h-1zM296 283h1v1h-1zM694 283h1v1h-1zM696 283h1v1h-1zM112 284h1v1h-1zM143 284h1v1h-1zM154 284h1v1h-1zM195 284h1v1h-1zM217 284h1v1h-1zM263 284h1v1h-1zM290 284h3v1h-3zM296 284h1v1h-1zM694 284h1v1h-1zM696 284h1v1h-1zM113 285h1v1h-1zM143 285h1v1h-1zM154 285h1v1h-1zM185 285h1v1h-1zM194 285h1v1h-1zM196 285h1v1h-1zM205 285h1v1h-1zM217 285h1v1h-1zM264 285h1v1h-1zM288 285h2v1h-2zM293 285h3v1h-3zM694 285h2v1h-2zM113 286h1v1h-1zM142 286h1v1h-1zM155 286h1v1h-1zM185 286h2v1h-2zM194 286h1v1h-1zM196 286h1v1h-1zM204 286h1v1h-1zM206 286h1v1h-1zM217 286h1v1h-1zM264 286h1v1h-1zM286 286h2v1h-2zM694 286h2v1h-2zM113 287h1v1h-1zM142 287h1v1h-1zM155 287h1v1h-1zM185 287h2v1h-2zM193 287h1v1h-1zM197 287h1v1h-1zM204 287h1v1h-1zM206 287h1v1h-1zM217 287h1v1h-1zM265 287h1v1h-1zM285 287h1v1h-1zM695 287h1v1h-1zM113 288h1v1h-1zM142 288h1v1h-1zM156 288h1v1h-1zM185 288h1v1h-1zM187 288h1v1h-1zM193 288h1v1h-1zM197 288h1v1h-1zM203 288h1v1h-1zM207 288h1v1h-1zM217 288h1v1h-1zM265 288h1v1h-1zM283 288h2v1h-2zM695 288h1v1h-1zM113 289h1v1h-1zM141 289h1v1h-1zM156 289h1v1h-1zM185 289h1v1h-1zM188 289h1v1h-1zM192 289h1v1h-1zM198 289h1v1h-1zM203 289h1v1h-1zM207 289h1v1h-1zM216 289h1v1h-1zM265 289h1v1h-1zM281 289h2v1h-2zM695 289h1v1h-1zM113 290h1v1h-1zM141 290h1v1h-1zM156 290h1v1h-1zM184 290h1v1h-1zM188 290h1v1h-1zM192 290h1v1h-1zM198 290h1v1h-1zM202 290h1v1h-1zM208 290h1v1h-1zM216 290h1v1h-1zM266 290h1v1h-1zM280 290h1v1h-1zM113 291h1v1h-1zM141 291h1v1h-1zM157 291h1v1h-1zM184 291h1v1h-1zM189 291h1v1h-1zM191 291h1v1h-1zM199 291h1v1h-1zM202 291h1v1h-1zM208 291h1v1h-1zM216 291h1v1h-1zM266 291h1v1h-1zM280 291h1v1h-1zM113 292h1v1h-1zM141 292h1v1h-1zM157 292h1v1h-1zM184 292h1v1h-1zM189 292h1v1h-1zM191 292h1v1h-1zM199 292h1v1h-1zM201 292h1v1h-1zM209 292h1v1h-1zM216 292h1v1h-1zM266 292h1v1h-1zM279 292h1v1h-1zM114 293h1v1h-1zM135 293h3v1h-3zM140 293h1v1h-1zM157 293h1v1h-1zM184 293h1v1h-1zM190 293h1v1h-1zM200 293h2v1h-2zM209 293h1v1h-1zM216 293h1v1h-1zM266 293h1v1h-1zM279 293h1v1h-1zM114 294h1v1h-1zM135 294h1v1h-1zM138 294h3v1h-3zM158 294h1v1h-1zM184 294h1v1h-1zM200 294h1v1h-1zM210 294h1v1h-1zM216 294h1v1h-1zM267 294h1v1h-1zM279 294h1v1h-1zM114 295h1v1h-1zM134 295h1v1h-1zM158 295h1v1h-1zM184 295h1v1h-1zM210 295h2v1h-2zM215 295h1v1h-1zM267 295h1v1h-1zM278 295h1v1h-1zM114 296h1v1h-1zM134 296h1v1h-1zM158 296h1v1h-1zM184 296h1v1h-1zM212 296h2v1h-2zM215 296h1v1h-1zM267 296h1v1h-1zM278 296h1v1h-1zM114 297h1v1h-1zM120 297h1v1h-1zM133 297h1v1h-1zM158 297h1v1h-1zM184 297h1v1h-1zM214 297h2v1h-2zM267 297h1v1h-1zM278 297h1v1h-1zM114 298h1v1h-1zM119 298h1v1h-1zM121 298h2v1h-2zM133 298h1v1h-1zM159 298h1v1h-1zM184 298h1v1h-1zM268 298h1v1h-1zM278 298h1v1h-1zM114 299h1v1h-1zM119 299h1v1h-1zM123 299h2v1h-2zM133 299h1v1h-1zM159 299h1v1h-1zM183 299h1v1h-1zM268 299h1v1h-1zM277 299h1v1h-1zM114 300h1v1h-1zM118 300h1v1h-1zM125 300h1v1h-1zM132 300h1v1h-1zM159 300h1v1h-1zM183 300h1v1h-1zM268 300h1v1h-1zM277 300h1v1h-1zM115 301h1v1h-1zM117 301h1v1h-1zM126 301h1v1h-1zM132 301h1v1h-1zM160 301h1v1h-1zM183 301h1v1h-1zM268 301h1v1h-1zM277 301h1v1h-1zM115 302h2v1h-2zM127 302h1v1h-1zM131 302h1v1h-1zM160 302h1v1h-1zM183 302h1v1h-1zM269 302h1v1h-1zM276 302h1v1h-1zM115 303h2v1h-2zM128 303h1v1h-1zM131 303h1v1h-1zM160 303h1v1h-1zM183 303h1v1h-1zM269 303h1v1h-1zM276 303h1v1h-1zM115 304h1v1h-1zM129 304h2v1h-2zM161 304h1v1h-1zM183 304h1v1h-1zM269 304h1v1h-1zM276 304h1v1h-1zM130 305h1v1h-1zM161 305h1v1h-1zM183 305h1v1h-1zM269 305h1v1h-1zM275 305h1v1h-1zM161 306h1v1h-1zM183 306h1v1h-1zM270 306h1v1h-1zM274 306h2v1h-2zM162 307h1v1h-1zM183 307h1v1h-1zM270 307h1v1h-1zM272 307h2v1h-2zM162 308h1v1h-1zM183 308h1v1h-1zM270 308h2v1h-2zM163 309h1v1h-1zM182 309h1v1h-1zM163 310h1v1h-1zM182 310h1v1h-1zM163 311h1v1h-1zM182 311h1v1h-1zM164 312h1v1h-1zM182 312h1v1h-1zM164 313h1v1h-1zM182 313h1v1h-1zM164 314h1v1h-1zM182 314h1v1h-1zM165 315h1v1h-1zM182 315h1v1h-1zM165 316h1v1h-1zM182 316h1v1h-1zM165 317h1v1h-1zM182 317h1v1h-1zM166 318h1v1h-1zM181 318h1v1h-1zM166 319h1v1h-1zM181 319h1v1h-1zM167 320h1v1h-1zM181 320h1v1h-1zM167 321h1v1h-1zM181 321h1v1h-1zM167 322h1v1h-1zM181 322h1v1h-1zM168 323h1v1h-1zM181 323h1v1h-1zM168 324h1v1h-1zM181 324h1v1h-1zM168 325h1v1h-1zM181 325h1v1h-1zM169 326h1v1h-1zM181 326h1v1h-1zM169 327h1v1h-1zM180 327h1v1h-1zM170 328h1v1h-1zM180 328h1v1h-1zM170 329h2v1h-2zM180 329h1v1h-1zM172 330h2v1h-2zM180 330h1v1h-1zM174 331h7v1h-7z"/><path fill="#0000ff" d="M143 212h9v1h-9zM133 213h10v1h-10zM152 213h2v1h-2zM100 214h6v1h-6zM130 214h3v1h-3zM154 214h9v1h-9zM178 214h33v1h-33zM99 215h1v1h-1zM106 215h1v1h-1zM128 215h2v1h-2zM163 215h3v1h-3zM175 215h3v1h-3zM211 215h2v1h-2zM97 216h2v1h-2zM107 216h1v1h-1zM126 216h2v1h-2zM166 216h2v1h-2zM173 216h2v1h-2zM213 216h2v1h-2zM96 217h1v1h-1zM108 217h1v1h-1zM125 217h1v1h-1zM168 217h2v1h-2zM171 217h2v1h-2zM215 217h2v1h-2zM224 217h3v1h-3zM94 218h2v1h-2zM109 218h1v1h-1zM123 218h2v1h-2zM170 218h1v1h-1zM217 218h2v1h-2zM222 218h2v1h-2zM227 218h2v1h-2zM40 219h13v1h-13zM68 219h10v1h-10zM92 219h2v1h-2zM110 219h3v1h-3zM121 219h2v1h-2zM219 219h3v1h-3zM229 219h7v1h-7zM245 219h1v1h-1zM400 219h3v1h-3zM53 220h15v1h-15zM78 220h14v1h-14zM113 220h8v1h-8zM236 220h2v1h-2zM243 220h2v1h-2zM246 220h1v1h-1zM398 220h2v1h-2zM403 220h5v1h-5zM413 220h8v1h-8zM238 221h2v1h-2zM241 221h2v1h-2zM247 221h1v1h-1zM396 221h2v1h-2zM408 221h5v1h-5zM421 221h1v1h-1zM240 222h1v1h-1zM248 222h1v1h-1zM395 222h1v1h-1zM422 222h1v1h-1zM248 223h1v1h-1zM393 223h2v1h-2zM423 223h1v1h-1zM249 224h1v1h-1zM338 224h3v1h-3zM360 224h3v1h-3zM391 224h2v1h-2zM424 224h1v1h-1zM250 225h6v1h-6zM275 225h2v1h-2zM295 225h43v1h-43zM341 225h1v1h-1zM359 225h1v1h-1zM363 225h28v1h-28zM425 225h1v1h-1zM256 226h1v1h-1zM274 226h1v1h-1zM277 226h2v1h-2zM293 226h2v1h-2zM341 226h1v1h-1zM359 226h1v1h-1zM426 226h1v1h-1zM256 227h1v1h-1zM272 227h2v1h-2zM279 227h9v1h-9zM291 227h2v1h-2zM342 227h1v1h-1zM358 227h1v1h-1zM427 227h1v1h-1zM257 228h1v1h-1zM271 228h1v1h-1zM288 228h3v1h-3zM343 228h1v1h-1zM358 228h1v1h-1zM428 228h1v1h-1zM258 229h1v1h-1zM270 229h1v1h-1zM343 229h1v1h-1zM357 229h1v1h-1zM428 229h1v1h-1zM258 230h1v1h-1zM269 230h1v1h-1zM344 230h1v1h-1zM357 230h1v1h-1zM429 230h1v1h-1zM259 231h1v1h-1zM269 231h1v1h-1zM344 231h1v1h-1zM356 231h1v1h-1zM430 231h1v1h-1zM259 232h1v1h-1zM268 232h1v1h-1zM345 232h3v1h-3zM356 232h1v1h-1zM431 232h1v1h-1zM260 233h1v1h-1zM268 233h1v1h-1zM348 233h8v1h-8zM431 233h1v1h-1zM261 234h1v1h-1zM267 234h1v1h-1zM432 234h1v1h-1zM262 235h2v1h-2zM266 235h1v1h-1zM432 235h1v1h-1zM264 236h1v1h-1zM266 236h1v1h-1zM433 236h1v1h-1zM265 237h1v1h-1zM433 237h1v1h-1zM434 238h1v1h-1zM434 239h1v1h-1zM435 240h1v1h-1zM435 241h1v1h-1zM436 242h1v1h-1zM437 243h1v1h-1zM438 244h1v1h-1zM438 245h1v1h-1zM439 246h1v1h-1zM440 247h1v1h-1zM441 248h1v1h-1zM442 249h1v1h-1zM443 250h1v1h-1zM444 251h1v1h-1zM445 252h1v1h-1zM446 253h1v1h-1zM446 254h1v1h-1zM447 255h1v1h-1zM447 256h1v1h-1zM448 257h1v1h-1zM448 258h1v1h-1zM449 259h1v1h-1zM449 260h1v1h-1zM450 261h1v1h-1zM450 262h1v1h-1zM451 263h1v1h-1zM452 264h2v1h-2zM454 265h1v1h-1zM455 266h1v1h-1zM456 267h1v1h-1zM456 268h1v1h-1zM457 269h1v1h-1zM457 270h1v1h-1zM458 271h1v1h-1zM458 272h1v1h-1zM459 273h1v1h-1zM459 274h1v1h-1zM460 275h1v1h-1zM460 276h1v1h-1zM461 277h1v1h-1zM461 278h1v1h-1zM462 279h1v1h-1zM462 280h1v1h-1zM463 281h1v1h-1zM463 282h1v1h-1zM464 283h1v1h-1zM464 284h1v1h-1zM465 285h1v1h-1zM465 286h1v1h-1zM465 287h1v1h-1zM466 288h1v1h-1zM466 289h1v1h-1zM466 290h1v1h-1zM466 291h1v1h-1zM467 292h1v1h-1zM467 293h1v1h-1zM467 294h1v1h-1zM468 295h1v1h-1zM468 296h1v1h-1zM468 297h1v1h-1zM468 298h1v1h-1zM469 299h1v1h-1zM469 300h1v1h-1zM469 301h1v1h-1zM469 302h1v1h-1zM470 303h1v1h-1zM470 304h1v1h-1zM470 305h1v1h-1zM470 306h1v1h-1zM471 307h1v1h-1zM471 308h1v1h-1zM471 309h1v1h-1zM471 310h1v1h-1zM471 311h1v1h-1zM471 312h1v1h-1zM472 313h1v1h-1zM472 314h1v1h-1zM472 315h1v1h-1zM472 316h1v1h-1zM472 317h1v1h-1zM473 318h1v1h-1zM473 319h1v1h-1zM473 320h1v1h-1zM473 321h1v1h-1zM473 322h1v1h-1zM474 323h1v1h-1zM474 324h1v1h-1zM474 325h1v1h-1zM474 326h1v1h-1zM493 326h3v1h-3zM474 327h1v1h-1zM489 327h4v1h-4zM496 327h1v1h-1zM474 328h1v1h-1zM487 328h2v1h-2zM496 328h1v1h-1zM475 329h1v1h-1zM485 329h2v1h-2zM497 329h1v1h-1zM475 330h1v1h-1zM483 330h2v1h-2zM498 330h1v1h-1zM475 331h3v1h-3zM481 331h2v1h-2zM498 331h1v1h-1zM478 332h3v1h-3zM499 332h1v1h-1zM499 333h1v1h-1zM500 334h1v1h-1zM501 335h1v1h-1zM502 336h1v1h-1zM503 337h1v1h-1zM504 338h1v1h-1zM505 339h1v1h-1zM506 340h1v1h-1zM506 341h1v1h-1zM507 342h1v1h-1zM507 343h1v1h-1zM508 344h1v1h-1zM508 345h1v1h-1zM509 346h1v1h-1zM509 347h1v1h-1zM510 348h1v1h-1zM510 349h1v1h-1zM510 350h1v1h-1zM511 351h1v1h-1zM511 352h1v1h-1zM511 353h1v1h-1zM511 354h1v1h-1zM512 355h1v1h-1zM512 356h1v1h-1zM512 357h1v1h-1zM513 358h1v1h-1zM513 359h1v1h-1zM513 360h1v1h-1zM513 361h1v1h-1zM514 362h1v1h-1zM514 363h1v1h-1zM514 364h1v1h-1zM514 365h1v1h-1zM515 366h1v1h-1zM515 367h1v1h-1zM516 368h1v1h-1zM516 369h1v1h-1zM517 370h1v1h-1zM517 371h1v1h-1zM518 372h1v1h-1zM518 373h1v1h-1zM519 374h1v1h-1zM519 375h1v1h-1zM520 376h1v1h-1zM521 377h1v1h-1zM522 378h1v1h-1zM523 379h1v1h-1zM524 380h1v1h-1zM525 381h1v1h-1zM525 382h1v1h-1zM526 383h1v1h-1zM526 384h1v1h-1zM526 385h1v1h-1zM526 386h1v1h-1zM527 387h1v1h-1zM527 388h1v1h-1zM527 389h1v1h-1zM528 390h1v1h-1zM528 391h1v1h-1zM528 392h1v1h-1zM528 393h1v1h-1zM529 394h1v1h-1zM529 395h1v1h-1zM529 396h1v1h-1zM529 397h1v1h-1zM530 398h1v1h-1zM530 399h1v1h-1zM530 400h1v1h-1zM531 401h1v1h-1zM531 402h1v1h-1zM532 403h1v1h-1zM532 404h1v1h-1zM533 405h1v1h-1zM533 406h1v1h-1zM623 406h8v1h-8zM533 407h1v1h-1zM610 407h3v1h-3zM618 407h5v1h-5zM631 407h1v1h-1zM534 408h1v1h-1zM608 408h2v1h-2zM613 408h5v1h-5zM632 408h2v1h-2zM534 409h1v1h-1zM585 409h7v1h-7zM606 409h2v1h-2zM634 409h1v1h-1zM535 410h1v1h-1zM583 410h2v1h-2zM592 410h2v1h-2zM604 410h2v1h-2zM635 410h1v1h-1zM535 411h1v1h-1zM581 411h2v1h-2zM594 411h4v1h-4zM602 411h2v1h-2zM636 411h2v1h-2zM644 411h2v1h-2zM536 412h1v1h-1zM579 412h2v1h-2zM598 412h4v1h-4zM638 412h2v1h-2zM642 412h2v1h-2zM646 412h1v1h-1zM536 413h1v1h-1zM577 413h2v1h-2zM640 413h2v1h-2zM647 413h2v1h-2zM537 414h1v1h-1zM575 414h2v1h-2zM649 414h1v1h-1zM538 415h1v1h-1zM573 415h2v1h-2zM650 415h3v1h-3zM539 416h1v1h-1zM571 416h2v1h-2zM653 416h3v1h-3zM539 417h1v1h-1zM570 417h1v1h-1zM656 417h1v1h-1zM675 417h1v1h-1zM540 418h1v1h-1zM569 418h1v1h-1zM656 418h1v1h-1zM674 418h1v1h-1zM676 418h2v1h-2zM540 419h1v1h-1zM567 419h2v1h-2zM657 419h1v1h-1zM672 419h2v1h-2zM678 419h2v1h-2zM541 420h1v1h-1zM566 420h1v1h-1zM658 420h1v1h-1zM671 420h1v1h-1zM680 420h1v1h-1zM541 421h1v1h-1zM565 421h1v1h-1zM659 421h1v1h-1zM670 421h1v1h-1zM681 421h2v1h-2zM541 422h1v1h-1zM563 422h2v1h-2zM659 422h1v1h-1zM669 422h1v1h-1zM683 422h2v1h-2zM542 423h1v1h-1zM561 423h2v1h-2zM660 423h1v1h-1zM668 423h1v1h-1zM685 423h1v1h-1zM542 424h1v1h-1zM560 424h1v1h-1zM661 424h1v1h-1zM668 424h1v1h-1zM686 424h1v1h-1zM705 424h1v1h-1zM542 425h1v1h-1zM559 425h1v1h-1zM662 425h2v1h-2zM667 425h1v1h-1zM687 425h1v1h-1zM705 425h3v1h-3zM543 426h1v1h-1zM558 426h1v1h-1zM664 426h1v1h-1zM666 426h1v1h-1zM688 426h1v1h-1zM704 426h1v1h-1zM708 426h2v1h-2zM543 427h1v1h-1zM558 427h1v1h-1zM665 427h1v1h-1zM689 427h1v1h-1zM704 427h1v1h-1zM710 427h1v1h-1zM543 428h1v1h-1zM557 428h1v1h-1zM690 428h1v1h-1zM703 428h1v1h-1zM711 428h1v1h-1zM543 429h1v1h-1zM556 429h1v1h-1zM690 429h1v1h-1zM703 429h1v1h-1zM711 429h1v1h-1zM544 430h1v1h-1zM555 430h1v1h-1zM691 430h1v1h-1zM703 430h1v1h-1zM712 430h1v1h-1zM544 431h1v1h-1zM554 431h1v1h-1zM691 431h1v1h-1zM702 431h1v1h-1zM713 431h1v1h-1zM544 432h1v1h-1zM553 432h1v1h-1zM692 432h1v1h-1zM702 432h1v1h-1zM714 432h1v1h-1zM545 433h1v1h-1zM552 433h1v1h-1zM692 433h1v1h-1zM701 433h1v1h-1zM714 433h1v1h-1zM744 433h3v1h-3zM545 434h3v1h-3zM551 434h1v1h-1zM692 434h1v1h-1zM701 434h1v1h-1zM715 434h2v1h-2zM724 434h14v1h-14zM742 434h2v1h-2zM747 434h2v1h-2zM548 435h3v1h-3zM693 435h1v1h-1zM700 435h1v1h-1zM717 435h2v1h-2zM722 435h2v1h-2zM738 435h4v1h-4zM749 435h2v1h-2zM693 436h1v1h-1zM700 436h1v1h-1zM719 436h3v1h-3zM751 436h2v1h-2zM693 437h1v1h-1zM699 437h1v1h-1zM753 437h2v1h-2zM694 438h1v1h-1zM698 438h1v1h-1zM755 438h1v1h-1zM694 439h1v1h-1zM697 439h1v1h-1zM695 440h2v1h-2zM695 441h1v1h-1z"/><path fill="#ff0000" d="M458 59h20v1h-20zM450 60h8v1h-8zM478 60h3v1h-3zM449 61h1v1h-1zM481 61h2v1h-2zM447 62h2v1h-2zM483 62h2v1h-2zM446 63h1v1h-1zM485 63h1v1h-1zM444 64h2v1h-2zM486 64h2v1h-2zM442 65h2v1h-2zM488 65h2v1h-2zM438 66h4v1h-4zM490 66h1v1h-1zM434 67h4v1h-4zM491 67h2v1h-2zM432 68h2v1h-2zM493 68h2v1h-2zM429 69h3v1h-3zM495 69h1v1h-1zM427 70h2v1h-2zM496 70h2v1h-2zM423 71h4v1h-4zM498 71h2v1h-2zM420 72h3v1h-3zM500 72h1v1h-1zM419 73h1v1h-1zM501 73h1v1h-1zM419 74h1v1h-1zM502 74h1v1h-1zM418 75h1v1h-1zM503 75h1v1h-1zM418 76h1v1h-1zM504 76h1v1h-1zM417 77h1v1h-1zM505 77h1v1h-1zM410 78h2v1h-2zM416 78h1v1h-1zM506 78h1v1h-1zM409 79h1v1h-1zM412 79h2v1h-2zM416 79h1v1h-1zM507 79h1v1h-1zM408 80h1v1h-1zM414 80h2v1h-2zM508 80h1v1h-1zM408 81h1v1h-1zM509 81h1v1h-1zM407 82h1v1h-1zM510 82h1v1h-1zM406 83h1v1h-1zM511 83h1v1h-1zM405 84h1v1h-1zM512 84h1v1h-1zM404 85h1v1h-1zM513 85h1v1h-1zM402 86h2v1h-2zM513 86h1v1h-1zM401 87h1v1h-1zM514 87h1v1h-1zM400 88h1v1h-1zM515 88h1v1h-1zM399 89h1v1h-1zM516 89h1v1h-1zM398 90h1v1h-1zM517 90h2v1h-2zM397 91h1v1h-1zM519 91h1v1h-1zM396 92h1v1h-1zM520 92h1v1h-1zM395 93h1v1h-1zM521 93h1v1h-1zM394 94h1v1h-1zM522 94h2v1h-2zM393 95h1v1h-1zM524 95h1v1h-1zM392 96h1v1h-1zM525 96h1v1h-1zM555 96h6v1h-6zM391 97h1v1h-1zM526 97h2v1h-2zM553 97h2v1h-2zM561 97h1v1h-1zM570 97h1v1h-1zM388 98h3v1h-3zM528 98h2v1h-2zM551 98h2v1h-2zM562 98h1v1h-1zM569 98h1v1h-1zM571 98h2v1h-2zM383 99h5v1h-5zM530 99h2v1h-2zM544 99h7v1h-7zM563 99h1v1h-1zM568 99h1v1h-1zM573 99h2v1h-2zM378 100h5v1h-5zM532 100h2v1h-2zM542 100h2v1h-2zM563 100h1v1h-1zM567 100h1v1h-1zM575 100h1v1h-1zM375 101h3v1h-3zM534 101h8v1h-8zM564 101h1v1h-1zM566 101h1v1h-1zM576 101h2v1h-2zM374 102h1v1h-1zM565 102h1v1h-1zM578 102h2v1h-2zM372 103h2v1h-2zM580 103h1v1h-1zM371 104h1v1h-1zM581 104h2v1h-2zM370 105h1v1h-1zM583 105h2v1h-2zM368 106h2v1h-2zM585 106h1v1h-1zM366 107h2v1h-2zM586 107h2v1h-2zM365 108h1v1h-1zM588 108h2v1h-2zM363 109h2v1h-2zM590 109h3v1h-3zM608 109h5v1h-5zM361 110h2v1h-2zM593 110h15v1h-15zM613 110h4v1h-4zM360 111h1v1h-1zM617 111h2v1h-2zM360 112h1v1h-1zM619 112h3v1h-3zM359 113h1v1h-1zM622 113h2v1h-2zM359 114h1v1h-1zM624 114h4v1h-4zM358 115h1v1h-1zM628 115h10v1h-10zM358 116h1v1h-1zM638 116h3v1h-3zM357 117h1v1h-1zM641 117h2v1h-2zM357 118h1v1h-1zM643 118h2v1h-2zM40 119h8v1h-8zM356 119h1v1h-1zM645 119h2v1h-2zM48 120h5v1h-5zM356 120h1v1h-1zM647 120h2v1h-2zM53 121h4v1h-4zM355 121h1v1h-1zM649 121h2v1h-2zM57 122h2v1h-2zM339 122h2v1h-2zM354 122h2v1h-2zM651 122h2v1h-2zM59 123h4v1h-4zM337 123h2v1h-2zM341 123h2v1h-2zM352 123h2v1h-2zM653 123h2v1h-2zM63 124h13v1h-13zM333 124h4v1h-4zM343 124h2v1h-2zM348 124h4v1h-4zM655 124h2v1h-2zM678 124h4v1h-4zM76 125h2v1h-2zM330 125h3v1h-3zM345 125h3v1h-3zM657 125h2v1h-2zM675 125h3v1h-3zM682 125h2v1h-2zM78 126h2v1h-2zM329 126h1v1h-1zM659 126h2v1h-2zM674 126h1v1h-1zM684 126h2v1h-2zM80 127h1v1h-1zM327 127h2v1h-2zM661 127h1v1h-1zM673 127h1v1h-1zM686 127h1v1h-1zM81 128h2v1h-2zM326 128h1v1h-1zM662 128h1v1h-1zM672 128h1v1h-1zM687 128h1v1h-1zM83 129h2v1h-2zM323 129h3v1h-3zM663 129h1v1h-1zM671 129h1v1h-1zM688 129h1v1h-1zM85 130h3v1h-3zM318 130h5v1h-5zM663 130h1v1h-1zM669 130h2v1h-2zM688 130h1v1h-1zM705 130h6v1h-6zM88 131h3v1h-3zM313 131h5v1h-5zM664 131h1v1h-1zM667 131h2v1h-2zM689 131h1v1h-1zM704 131h1v1h-1zM711 131h2v1h-2zM91 132h2v1h-2zM293 132h5v1h-5zM308 132h5v1h-5zM665 132h2v1h-2zM690 132h1v1h-1zM704 132h1v1h-1zM713 132h2v1h-2zM93 133h2v1h-2zM275 133h18v1h-18zM298 133h10v1h-10zM691 133h1v1h-1zM703 133h1v1h-1zM715 133h1v1h-1zM729 133h7v1h-7zM95 134h3v1h-3zM273 134h2v1h-2zM691 134h1v1h-1zM703 134h1v1h-1zM716 134h1v1h-1zM727 134h2v1h-2zM736 134h1v1h-1zM98 135h4v1h-4zM271 135h2v1h-2zM692 135h1v1h-1zM702 135h1v1h-1zM717 135h2v1h-2zM724 135h3v1h-3zM737 135h1v1h-1zM102 136h2v1h-2zM270 136h1v1h-1zM693 136h1v1h-1zM701 136h1v1h-1zM719 136h1v1h-1zM722 136h2v1h-2zM738 136h1v1h-1zM104 137h2v1h-2zM270 137h1v1h-1zM693 137h1v1h-1zM701 137h1v1h-1zM720 137h2v1h-2zM739 137h1v1h-1zM106 138h1v1h-1zM269 138h1v1h-1zM694 138h1v1h-1zM699 138h2v1h-2zM740 138h2v1h-2zM107 139h1v1h-1zM249 139h7v1h-7zM269 139h1v1h-1zM694 139h1v1h-1zM697 139h2v1h-2zM742 139h2v1h-2zM108 140h1v1h-1zM247 140h2v1h-2zM256 140h2v1h-2zM268 140h1v1h-1zM695 140h2v1h-2zM744 140h2v1h-2zM108 141h1v1h-1zM245 141h2v1h-2zM258 141h2v1h-2zM268 141h1v1h-1zM746 141h2v1h-2zM109 142h1v1h-1zM229 142h3v1h-3zM245 142h1v1h-1zM260 142h1v1h-1zM267 142h1v1h-1zM748 142h2v1h-2zM110 143h1v1h-1zM227 143h2v1h-2zM232 143h2v1h-2zM244 143h1v1h-1zM261 143h1v1h-1zM267 143h1v1h-1zM750 143h1v1h-1zM111 144h1v1h-1zM225 144h2v1h-2zM234 144h2v1h-2zM244 144h1v1h-1zM262 144h2v1h-2zM266 144h1v1h-1zM751 144h1v1h-1zM112 145h1v1h-1zM223 145h2v1h-2zM236 145h1v1h-1zM243 145h1v1h-1zM264 145h1v1h-1zM266 145h1v1h-1zM752 145h1v1h-1zM113 146h1v1h-1zM221 146h2v1h-2zM236 146h1v1h-1zM243 146h1v1h-1zM265 146h1v1h-1zM753 146h1v1h-1zM113 147h1v1h-1zM213 147h8v1h-8zM237 147h1v1h-1zM243 147h1v1h-1zM753 147h1v1h-1zM114 148h1v1h-1zM204 148h9v1h-9zM237 148h1v1h-1zM242 148h1v1h-1zM754 148h1v1h-1zM115 149h1v1h-1zM202 149h2v1h-2zM238 149h1v1h-1zM242 149h1v1h-1zM755 149h1v1h-1zM116 150h2v1h-2zM199 150h3v1h-3zM238 150h1v1h-1zM242 150h1v1h-1zM118 151h2v1h-2zM143 151h9v1h-9zM197 151h2v1h-2zM239 151h1v1h-1zM241 151h1v1h-1zM120 152h1v1h-1zM138 152h5v1h-5zM152 152h2v1h-2zM194 152h3v1h-3zM239 152h1v1h-1zM241 152h1v1h-1zM121 153h2v1h-2zM134 153h4v1h-4zM154 153h2v1h-2zM184 153h4v1h-4zM192 153h2v1h-2zM240 153h1v1h-1zM123 154h2v1h-2zM132 154h2v1h-2zM156 154h2v1h-2zM182 154h2v1h-2zM188 154h4v1h-4zM240 154h1v1h-1zM125 155h7v1h-7zM158 155h2v1h-2zM179 155h3v1h-3zM160 156h2v1h-2zM177 156h2v1h-2zM162 157h2v1h-2zM173 157h4v1h-4zM164 158h9v1h-9z"/>
</svg>
</body></html>
